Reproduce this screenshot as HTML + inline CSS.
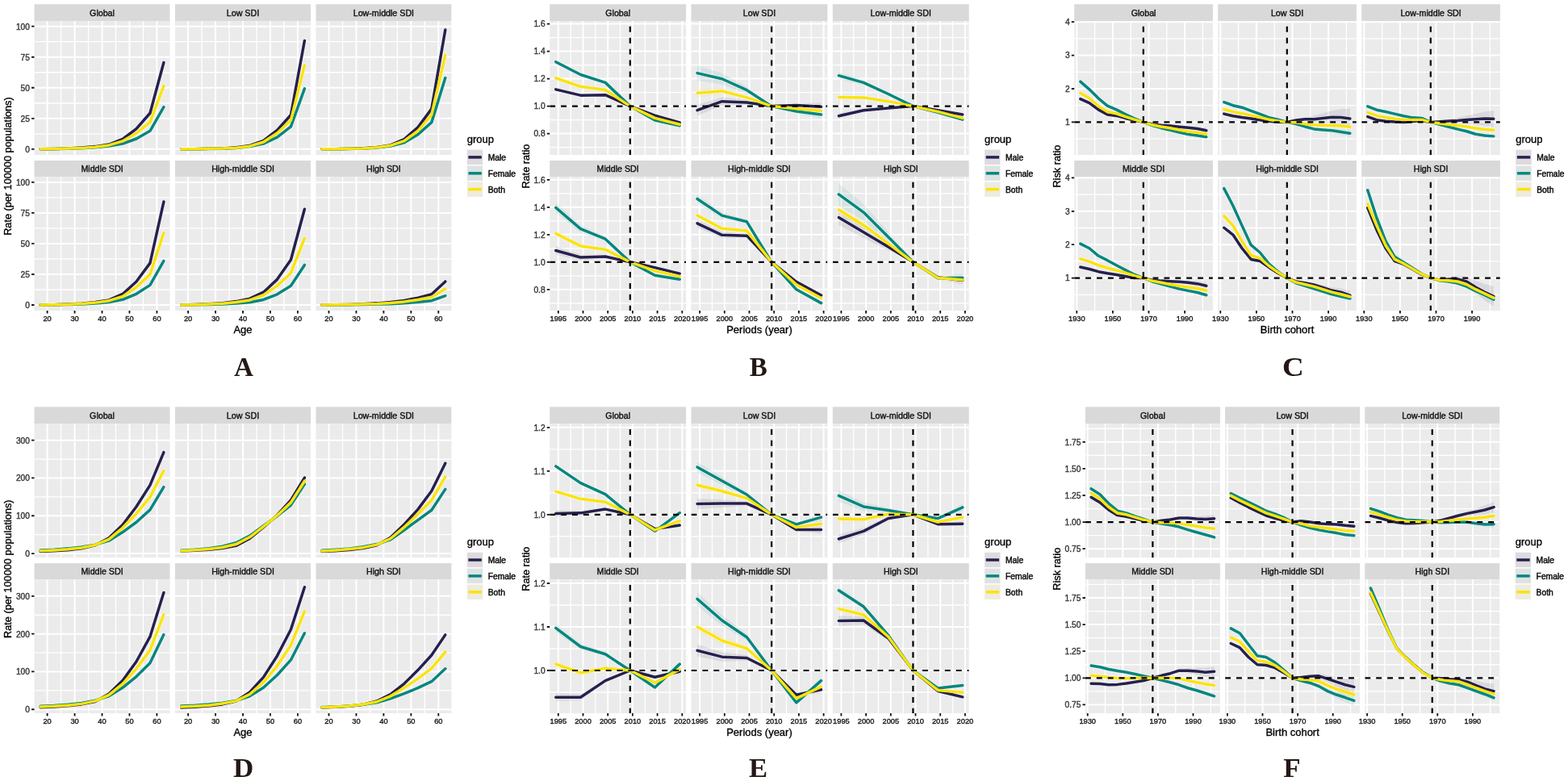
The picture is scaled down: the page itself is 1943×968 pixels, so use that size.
<!DOCTYPE html>
<html lang="en">
<head>
<meta charset="utf-8">
<title>Age-period-cohort effects by SDI region</title>
<style>
html,body{margin:0;padding:0;background:#fff}
body{width:1943px;height:968px;overflow:hidden}
svg{display:block;filter:blur(.4px)}
text{font-family:"Liberation Sans",Arial,Helvetica,sans-serif}
.st{fill:#d9d9d9}
.pn{fill:#ebebeb}
.gm{stroke:#fff;stroke-width:1.3;fill:none}
.gM{stroke:#fff;stroke-width:2.0;fill:none}
.sl{font-size:10.9px;fill:#111;stroke:#111;stroke-width:.4;text-anchor:middle}
.yl{font-size:10.6px;fill:#383838;stroke:#383838;stroke-width:.4;text-anchor:end}
.xl{font-size:9.7px;fill:#1c1c1c;stroke:#1c1c1c;stroke-width:.4;text-anchor:middle}
.at{font-size:13.4px;fill:#000;stroke:#000;stroke-width:.35;text-anchor:middle}
.lt{font-size:13.4px;fill:#000;stroke:#000;stroke-width:.35}
.ll{font-size:10.0px;fill:#0d0d0d;stroke:#0d0d0d;stroke-width:.45}
.tk{stroke:#111;stroke-width:1.8;fill:none}
.ln{fill:none;stroke-width:3.5;stroke-linejoin:round;stroke-linecap:round}
.hl{fill:none;stroke:#fff;stroke-opacity:.5;stroke-width:5.0;stroke-linejoin:round;stroke-linecap:round}
.rb{fill-opacity:.09;stroke:none}
.dh{fill:none;stroke:#000;stroke-width:2.2;stroke-dasharray:6.95 6.95}
.lk{fill:none;stroke-width:3.5}
.pl{font-family:"Liberation Serif","Times New Roman",Times,serif;font-weight:bold;font-size:34.3px;fill:#231815;text-anchor:middle}
</style>
</head>
<body>
<svg width="1943" height="968" viewBox="0 0 1943 968">
<rect width="1943" height="968" fill="#fff"/>
<defs><clipPath id="c1"><rect x="42.5" y="26" width="168" height="166"/></clipPath><clipPath id="c2"><rect x="217" y="26" width="168" height="166"/></clipPath><clipPath id="c3"><rect x="391.4" y="26" width="168" height="166"/></clipPath><clipPath id="c4"><rect x="42.5" y="219.1" width="168" height="165.9"/></clipPath><clipPath id="c5"><rect x="217" y="219.1" width="168" height="165.9"/></clipPath><clipPath id="c6"><rect x="391.4" y="219.1" width="168" height="165.9"/></clipPath><clipPath id="c7"><rect x="681.2" y="26" width="168.9" height="166"/></clipPath><clipPath id="c8"><rect x="856.5" y="26" width="168.9" height="166"/></clipPath><clipPath id="c9"><rect x="1031.8" y="26" width="168.9" height="166"/></clipPath><clipPath id="c10"><rect x="681.2" y="219.1" width="168.9" height="165.9"/></clipPath><clipPath id="c11"><rect x="856.5" y="219.1" width="168.9" height="165.9"/></clipPath><clipPath id="c12"><rect x="1031.8" y="219.1" width="168.9" height="165.9"/></clipPath><clipPath id="c13"><rect x="1331.2" y="26" width="171.7" height="166"/></clipPath><clipPath id="c14"><rect x="1509.2" y="26" width="171.7" height="166"/></clipPath><clipPath id="c15"><rect x="1687.2" y="26" width="171.7" height="166"/></clipPath><clipPath id="c16"><rect x="1331.2" y="219.1" width="171.7" height="165.9"/></clipPath><clipPath id="c17"><rect x="1509.2" y="219.1" width="171.7" height="165.9"/></clipPath><clipPath id="c18"><rect x="1687.2" y="219.1" width="171.7" height="165.9"/></clipPath><clipPath id="c19"><rect x="42.5" y="525.1" width="168" height="166"/></clipPath><clipPath id="c20"><rect x="217" y="525.1" width="168" height="166"/></clipPath><clipPath id="c21"><rect x="391.4" y="525.1" width="168" height="166"/></clipPath><clipPath id="c22"><rect x="42.5" y="718.2" width="168" height="165.9"/></clipPath><clipPath id="c23"><rect x="217" y="718.2" width="168" height="165.9"/></clipPath><clipPath id="c24"><rect x="391.4" y="718.2" width="168" height="165.9"/></clipPath><clipPath id="c25"><rect x="681.2" y="525.1" width="168.9" height="166"/></clipPath><clipPath id="c26"><rect x="856.5" y="525.1" width="168.9" height="166"/></clipPath><clipPath id="c27"><rect x="1031.8" y="525.1" width="168.9" height="166"/></clipPath><clipPath id="c28"><rect x="681.2" y="718.2" width="168.9" height="165.9"/></clipPath><clipPath id="c29"><rect x="856.5" y="718.2" width="168.9" height="165.9"/></clipPath><clipPath id="c30"><rect x="1031.8" y="718.2" width="168.9" height="165.9"/></clipPath><clipPath id="c31"><rect x="1344.9" y="525.1" width="167" height="166"/></clipPath><clipPath id="c32"><rect x="1518.1" y="525.1" width="167" height="166"/></clipPath><clipPath id="c33"><rect x="1691.3" y="525.1" width="167" height="166"/></clipPath><clipPath id="c34"><rect x="1344.9" y="718.2" width="167" height="165.9"/></clipPath><clipPath id="c35"><rect x="1518.1" y="718.2" width="167" height="165.9"/></clipPath><clipPath id="c36"><rect x="1691.3" y="718.2" width="167" height="165.9"/></clipPath></defs>
<g class="fig" id="figA">
<rect class="st" x="42.5" y="5.2" width="168" height="20.8"/>
<text class="sl" transform="translate(126.5 19.8) rotate(.02) scale(0.98 1)">Global</text>
<rect class="pn" x="42.5" y="26" width="168" height="166"/>
<path class="gm" d="M42.5 165.79h168M42.5 127.76h168M42.5 89.74h168M42.5 51.71h168M75.58 26v166M109.53 26v166M143.47 26v166M177.43 26v166"/>
<path class="gM" d="M42.5 184.8h168M42.5 146.78h168M42.5 108.75h168M42.5 70.73h168M42.5 32.7h168M58.6 26v166M92.55 26v166M126.5 26v166M160.45 26v166M194.4 26v166"/>
<g clip-path="url(#c1)">
<polyline class="hl" points="50.11,184.8 67.09,184.5 84.06,183.89 101.04,182.97 118.01,181.61 134.99,179.02 151.96,172.48 168.94,159.7 185.91,140.23 202.89,77.42"/>
<polyline class="hl" points="50.11,184.8 67.09,184.65 84.06,184.19 101.04,183.74 118.01,182.82 134.99,181 151.96,178.11 168.94,172.02 185.91,162.29 202.89,132.63"/>
<polyline class="hl" points="50.11,184.8 67.09,184.5 84.06,184.04 101.04,183.43 118.01,182.21 134.99,179.93 151.96,174.91 168.94,165.03 185.91,151.34 202.89,106.32"/>
<polyline class="ln" stroke="#26204d" points="50.11,184.8 67.09,184.5 84.06,183.89 101.04,182.97 118.01,181.61 134.99,179.02 151.96,172.48 168.94,159.7 185.91,140.23 202.89,77.42"/>
<polyline class="ln" stroke="#06867e" points="50.11,184.8 67.09,184.65 84.06,184.19 101.04,183.74 118.01,182.82 134.99,181 151.96,178.11 168.94,172.02 185.91,162.29 202.89,132.63"/>
<polyline class="ln" stroke="#fbe30d" points="50.11,184.8 67.09,184.5 84.06,184.04 101.04,183.43 118.01,182.21 134.99,179.93 151.96,174.91 168.94,165.03 185.91,151.34 202.89,106.32"/>
</g>
<text class="yl" transform="translate(36.9 188.7) rotate(.02) scale(0.96 1)">0</text>
<text class="yl" transform="translate(36.9 150.68) rotate(.02) scale(0.96 1)">25</text>
<text class="yl" transform="translate(36.9 112.65) rotate(.02) scale(0.96 1)">50</text>
<text class="yl" transform="translate(36.9 74.63) rotate(.02) scale(0.96 1)">75</text>
<text class="yl" transform="translate(36.9 36.6) rotate(.02) scale(0.96 1)">100</text>
<path class="tk" d="M39.1 184.8h3.4M39.1 146.78h3.4M39.1 108.75h3.4M39.1 70.73h3.4M39.1 32.7h3.4"/>
<rect class="st" x="217" y="5.2" width="168" height="20.8"/>
<text class="sl" transform="translate(301 19.8) rotate(.02) scale(0.98 1)">Low SDI</text>
<rect class="pn" x="217" y="26" width="168" height="166"/>
<path class="gm" d="M217 165.79h168M217 127.76h168M217 89.74h168M217 51.71h168M250.07 26v166M284.02 26v166M317.98 26v166M351.93 26v166"/>
<path class="gM" d="M217 184.8h168M217 146.78h168M217 108.75h168M217 70.73h168M217 32.7h168M233.1 26v166M267.05 26v166M301 26v166M334.95 26v166M368.9 26v166"/>
<g clip-path="url(#c2)">
<polyline class="hl" points="224.61,184.8 241.59,184.65 258.56,184.34 275.54,184.04 292.51,182.82 309.49,180.39 326.46,174.31 343.44,161.38 360.41,142.52 377.39,50.5"/>
<polyline class="hl" points="224.61,184.8 241.59,184.65 258.56,184.5 275.54,184.19 292.51,183.43 309.49,181.61 326.46,178.11 343.44,170.2 360.41,156.97 377.39,109.81"/>
<polyline class="hl" points="224.61,184.8 241.59,184.65 258.56,184.34 275.54,184.04 292.51,183.28 309.49,181.15 326.46,175.98 343.44,165.03 360.41,149.06 377.39,80.92"/>
<polyline class="ln" stroke="#26204d" points="224.61,184.8 241.59,184.65 258.56,184.34 275.54,184.04 292.51,182.82 309.49,180.39 326.46,174.31 343.44,161.38 360.41,142.52 377.39,50.5"/>
<polyline class="ln" stroke="#06867e" points="224.61,184.8 241.59,184.65 258.56,184.5 275.54,184.19 292.51,183.43 309.49,181.61 326.46,178.11 343.44,170.2 360.41,156.97 377.39,109.81"/>
<polyline class="ln" stroke="#fbe30d" points="224.61,184.8 241.59,184.65 258.56,184.34 275.54,184.04 292.51,183.28 309.49,181.15 326.46,175.98 343.44,165.03 360.41,149.06 377.39,80.92"/>
</g>
<rect class="st" x="391.4" y="5.2" width="168" height="20.8"/>
<text class="sl" transform="translate(475.4 19.8) rotate(.02) scale(0.98 1)">Low-middle SDI</text>
<rect class="pn" x="391.4" y="26" width="168" height="166"/>
<path class="gm" d="M391.4 165.79h168M391.4 127.76h168M391.4 89.74h168M391.4 51.71h168M424.48 26v166M458.43 26v166M492.38 26v166M526.33 26v166"/>
<path class="gM" d="M391.4 184.8h168M391.4 146.78h168M391.4 108.75h168M391.4 70.73h168M391.4 32.7h168M407.5 26v166M441.45 26v166M475.4 26v166M509.35 26v166M543.3 26v166"/>
<g clip-path="url(#c3)">
<polyline class="hl" points="399.01,184.8 415.99,184.65 432.96,184.34 449.94,183.74 466.91,182.52 483.89,179.93 500.86,172.48 517.84,157.88 534.81,134.91 551.79,36.96"/>
<polyline class="hl" points="399.01,184.8 415.99,184.65 432.96,184.5 449.94,184.04 466.91,183.13 483.89,181 500.86,176.74 517.84,166.7 534.81,151.64 551.79,96.58"/>
<polyline class="hl" points="399.01,184.8 415.99,184.65 432.96,184.34 449.94,183.89 466.91,182.82 483.89,180.39 500.86,174.61 517.84,162.29 534.81,142.06 551.79,68.14"/>
<polyline class="ln" stroke="#26204d" points="399.01,184.8 415.99,184.65 432.96,184.34 449.94,183.74 466.91,182.52 483.89,179.93 500.86,172.48 517.84,157.88 534.81,134.91 551.79,36.96"/>
<polyline class="ln" stroke="#06867e" points="399.01,184.8 415.99,184.65 432.96,184.5 449.94,184.04 466.91,183.13 483.89,181 500.86,176.74 517.84,166.7 534.81,151.64 551.79,96.58"/>
<polyline class="ln" stroke="#fbe30d" points="399.01,184.8 415.99,184.65 432.96,184.34 449.94,183.89 466.91,182.82 483.89,180.39 500.86,174.61 517.84,162.29 534.81,142.06 551.79,68.14"/>
</g>
<rect class="st" x="42.5" y="199" width="168" height="20.1"/>
<text class="sl" transform="translate(126.5 213.25) rotate(.02) scale(0.98 1)">Middle SDI</text>
<rect class="pn" x="42.5" y="219.1" width="168" height="165.9"/>
<path class="gm" d="M42.5 358.99h168M42.5 320.96h168M42.5 282.94h168M42.5 244.91h168M75.58 219.1v165.9M109.53 219.1v165.9M143.47 219.1v165.9M177.43 219.1v165.9"/>
<path class="gM" d="M42.5 378h168M42.5 339.98h168M42.5 301.95h168M42.5 263.93h168M42.5 225.9h168M58.6 219.1v165.9M92.55 219.1v165.9M126.5 219.1v165.9M160.45 219.1v165.9M194.4 219.1v165.9"/>
<g clip-path="url(#c4)">
<polyline class="hl" points="50.11,378 67.09,377.7 84.06,377.09 101.04,376.17 118.01,374.5 134.99,371.92 151.96,364.46 168.94,348.95 185.91,326.13 202.89,250.08"/>
<polyline class="hl" points="50.11,378 67.09,377.85 84.06,377.39 101.04,376.94 118.01,376.02 134.99,374.5 151.96,371.31 168.94,364.31 185.91,353.36 202.89,323.4"/>
<polyline class="hl" points="50.11,378 67.09,377.7 84.06,377.24 101.04,376.48 118.01,375.11 134.99,372.68 151.96,367.51 168.94,355.95 185.91,340.13 202.89,288.72"/>
<polyline class="ln" stroke="#26204d" points="50.11,378 67.09,377.7 84.06,377.09 101.04,376.17 118.01,374.5 134.99,371.92 151.96,364.46 168.94,348.95 185.91,326.13 202.89,250.08"/>
<polyline class="ln" stroke="#06867e" points="50.11,378 67.09,377.85 84.06,377.39 101.04,376.94 118.01,376.02 134.99,374.5 151.96,371.31 168.94,364.31 185.91,353.36 202.89,323.4"/>
<polyline class="ln" stroke="#fbe30d" points="50.11,378 67.09,377.7 84.06,377.24 101.04,376.48 118.01,375.11 134.99,372.68 151.96,367.51 168.94,355.95 185.91,340.13 202.89,288.72"/>
</g>
<text class="yl" transform="translate(36.9 381.9) rotate(.02) scale(0.96 1)">0</text>
<text class="yl" transform="translate(36.9 343.88) rotate(.02) scale(0.96 1)">25</text>
<text class="yl" transform="translate(36.9 305.85) rotate(.02) scale(0.96 1)">50</text>
<text class="yl" transform="translate(36.9 267.82) rotate(.02) scale(0.96 1)">75</text>
<text class="yl" transform="translate(36.9 229.8) rotate(.02) scale(0.96 1)">100</text>
<path class="tk" d="M39.1 378h3.4M39.1 339.98h3.4M39.1 301.95h3.4M39.1 263.93h3.4M39.1 225.9h3.4"/>
<text class="xl" transform="translate(58.6 398) rotate(.02) scale(0.955 1)">20</text>
<text class="xl" transform="translate(92.55 398) rotate(.02) scale(0.955 1)">30</text>
<text class="xl" transform="translate(126.5 398) rotate(.02) scale(0.955 1)">40</text>
<text class="xl" transform="translate(160.45 398) rotate(.02) scale(0.955 1)">50</text>
<text class="xl" transform="translate(194.4 398) rotate(.02) scale(0.955 1)">60</text>
<path class="tk" d="M58.6 385v3.4M92.55 385v3.4M126.5 385v3.4M160.45 385v3.4M194.4 385v3.4"/>
<rect class="st" x="217" y="199" width="168" height="20.1"/>
<text class="sl" transform="translate(301 213.25) rotate(.02) scale(0.98 1)">High-middle SDI</text>
<rect class="pn" x="217" y="219.1" width="168" height="165.9"/>
<path class="gm" d="M217 358.99h168M217 320.96h168M217 282.94h168M217 244.91h168M250.07 219.1v165.9M284.02 219.1v165.9M317.98 219.1v165.9M351.93 219.1v165.9"/>
<path class="gM" d="M217 378h168M217 339.98h168M217 301.95h168M217 263.93h168M217 225.9h168M233.1 219.1v165.9M267.05 219.1v165.9M301 219.1v165.9M334.95 219.1v165.9M368.9 219.1v165.9"/>
<g clip-path="url(#c5)">
<polyline class="hl" points="224.61,378 241.59,377.54 258.56,376.78 275.54,375.72 292.51,373.59 309.49,370.09 326.46,362.18 343.44,346.36 360.41,322.03 377.39,259.21"/>
<polyline class="hl" points="224.61,378 241.59,377.85 258.56,377.39 275.54,376.94 292.51,376.02 309.49,374.81 326.46,371.46 343.44,364.77 360.41,354.27 377.39,328.42"/>
<polyline class="hl" points="224.61,378 241.59,377.7 258.56,377.09 275.54,376.17 292.51,374.5 309.49,371.92 326.46,365.68 343.44,354.27 360.41,338.45 377.39,295.26"/>
<polyline class="ln" stroke="#26204d" points="224.61,378 241.59,377.54 258.56,376.78 275.54,375.72 292.51,373.59 309.49,370.09 326.46,362.18 343.44,346.36 360.41,322.03 377.39,259.21"/>
<polyline class="ln" stroke="#06867e" points="224.61,378 241.59,377.85 258.56,377.39 275.54,376.94 292.51,376.02 309.49,374.81 326.46,371.46 343.44,364.77 360.41,354.27 377.39,328.42"/>
<polyline class="ln" stroke="#fbe30d" points="224.61,378 241.59,377.7 258.56,377.09 275.54,376.17 292.51,374.5 309.49,371.92 326.46,365.68 343.44,354.27 360.41,338.45 377.39,295.26"/>
</g>
<text class="xl" transform="translate(233.1 398) rotate(.02) scale(0.955 1)">20</text>
<text class="xl" transform="translate(267.05 398) rotate(.02) scale(0.955 1)">30</text>
<text class="xl" transform="translate(301 398) rotate(.02) scale(0.955 1)">40</text>
<text class="xl" transform="translate(334.95 398) rotate(.02) scale(0.955 1)">50</text>
<text class="xl" transform="translate(368.9 398) rotate(.02) scale(0.955 1)">60</text>
<path class="tk" d="M233.1 385v3.4M267.05 385v3.4M301 385v3.4M334.95 385v3.4M368.9 385v3.4"/>
<rect class="st" x="391.4" y="199" width="168" height="20.1"/>
<text class="sl" transform="translate(475.4 213.25) rotate(.02) scale(0.98 1)">High SDI</text>
<rect class="pn" x="391.4" y="219.1" width="168" height="165.9"/>
<path class="gm" d="M391.4 358.99h168M391.4 320.96h168M391.4 282.94h168M391.4 244.91h168M424.48 219.1v165.9M458.43 219.1v165.9M492.38 219.1v165.9M526.33 219.1v165.9"/>
<path class="gM" d="M391.4 378h168M391.4 339.98h168M391.4 301.95h168M391.4 263.93h168M391.4 225.9h168M407.5 219.1v165.9M441.45 219.1v165.9M475.4 219.1v165.9M509.35 219.1v165.9M543.3 219.1v165.9"/>
<g clip-path="url(#c6)">
<polyline class="hl" points="399.01,378 415.99,377.85 432.96,377.39 449.94,376.78 466.91,375.87 483.89,374.5 500.86,372.37 517.84,369.18 534.81,364.77 551.79,348.95"/>
<polyline class="hl" points="399.01,378 415.99,377.85 432.96,377.7 449.94,377.39 466.91,377.09 483.89,376.63 500.86,375.72 517.84,374.5 534.81,372.68 551.79,366.59"/>
<polyline class="hl" points="399.01,378 415.99,377.85 432.96,377.54 449.94,377.09 466.91,376.48 483.89,375.41 500.86,373.89 517.84,371.46 534.81,368.27 551.79,358.07"/>
<polyline class="ln" stroke="#26204d" points="399.01,378 415.99,377.85 432.96,377.39 449.94,376.78 466.91,375.87 483.89,374.5 500.86,372.37 517.84,369.18 534.81,364.77 551.79,348.95"/>
<polyline class="ln" stroke="#06867e" points="399.01,378 415.99,377.85 432.96,377.7 449.94,377.39 466.91,377.09 483.89,376.63 500.86,375.72 517.84,374.5 534.81,372.68 551.79,366.59"/>
<polyline class="ln" stroke="#fbe30d" points="399.01,378 415.99,377.85 432.96,377.54 449.94,377.09 466.91,376.48 483.89,375.41 500.86,373.89 517.84,371.46 534.81,368.27 551.79,358.07"/>
</g>
<text class="xl" transform="translate(407.5 398) rotate(.02) scale(0.955 1)">20</text>
<text class="xl" transform="translate(441.45 398) rotate(.02) scale(0.955 1)">30</text>
<text class="xl" transform="translate(475.4 398) rotate(.02) scale(0.955 1)">40</text>
<text class="xl" transform="translate(509.35 398) rotate(.02) scale(0.955 1)">50</text>
<text class="xl" transform="translate(543.3 398) rotate(.02) scale(0.955 1)">60</text>
<path class="tk" d="M407.5 385v3.4M441.45 385v3.4M475.4 385v3.4M509.35 385v3.4M543.3 385v3.4"/>
<text class="at" transform="translate(300.95 413.2) rotate(.02) scale(0.97 1)">Age</text>
<text class="at" transform="translate(14.2 206.1) rotate(-90.02) scale(0.948 1)">Rate (per 100000 populations)</text>
<text class="lt" transform="translate(578.8 176.8) rotate(.02) scale(0.97 1)">group</text>
<rect x="578.8" y="185.6" width="19.4" height="18.5" fill="#dedade"/>
<path class="lk" stroke="#26204d" d="M580.4 194.9h16.4"/>
<text class="ll" transform="translate(604.7 199.1) rotate(.02) scale(1.03 1)">Male</text>
<rect x="578.8" y="205.5" width="19.4" height="18.5" fill="#dde3e2"/>
<path class="lk" stroke="#06867e" d="M580.4 214.8h16.4"/>
<text class="ll" transform="translate(604.7 219) rotate(.02) scale(1.03 1)">Female</text>
<rect x="578.8" y="225.4" width="19.4" height="18.5" fill="#eeebdf"/>
<path class="lk" stroke="#fbe30d" d="M580.4 234.7h16.4"/>
<text class="ll" transform="translate(604.7 238.9) rotate(.02) scale(1.03 1)">Both</text>
<text class="pl" transform="translate(301.9 465.9) rotate(.02) scale(0.97 1)">A</text>
</g>
<g class="fig" id="figB">
<rect class="st" x="681.2" y="5.2" width="168.9" height="20.8"/>
<text class="sl" transform="translate(765.65 19.8) rotate(.02) scale(0.98 1)">Global</text>
<rect class="pn" x="681.2" y="26" width="168.9" height="166"/>
<path class="gm" d="M681.2 182.6h168.9M681.2 148.6h168.9M681.2 114.6h168.9M681.2 80.6h168.9M681.2 46.6h168.9M707.15 26v166M737.85 26v166M768.55 26v166M799.25 26v166M829.95 26v166"/>
<path class="gM" d="M681.2 165.6h168.9M681.2 131.6h168.9M681.2 97.6h168.9M681.2 63.6h168.9M681.2 29.6h168.9M691.8 26v166M722.5 26v166M753.2 26v166M783.9 26v166M814.6 26v166M845.3 26v166"/>
<g clip-path="url(#c7)">
<polygon class="rb" fill="#26204d" points="688.73,109.16 719.43,116.89 750.13,116.87 780.83,131.6 811.53,142.61 842.23,150.64 842.23,153.36 811.53,143.71 780.83,131.6 750.13,118.45 719.43,119.45 688.73,112.56"/>
<polygon class="rb" fill="#06867e" points="688.73,74.65 719.43,90.96 750.13,101.41 780.83,131.6 811.53,148.39 842.23,154.38 842.23,157.1 811.53,149.49 780.83,131.6 750.13,103.31 719.43,94.04 688.73,78.73"/>
<polygon class="rb" fill="#fbe30d" points="688.73,95.39 719.43,106.27 750.13,110.91 780.83,131.6 811.53,145.98 842.23,153.19 842.23,155.23 811.53,146.8 780.83,131.6 750.13,112.17 719.43,108.31 688.73,98.11"/>
<polyline class="hl" points="688.73,110.86 719.43,118.17 750.13,117.66 780.83,131.6 811.53,143.16 842.23,152"/>
<polyline class="hl" points="688.73,76.69 719.43,92.5 750.13,102.36 780.83,131.6 811.53,148.94 842.23,155.74"/>
<polyline class="hl" points="688.73,96.75 719.43,107.29 750.13,111.54 780.83,131.6 811.53,146.39 842.23,154.21"/>
<polyline class="ln" stroke="#26204d" points="688.73,110.86 719.43,118.17 750.13,117.66 780.83,131.6 811.53,143.16 842.23,152"/>
<polyline class="ln" stroke="#06867e" points="688.73,76.69 719.43,92.5 750.13,102.36 780.83,131.6 811.53,148.94 842.23,155.74"/>
<polyline class="ln" stroke="#fbe30d" points="688.73,96.75 719.43,107.29 750.13,111.54 780.83,131.6 811.53,146.39 842.23,154.21"/>
<path class="dh" d="M681.2 131.6H850.1"/>
<path class="dh" d="M780.83 192.7V26"/>
</g>
<text class="yl" transform="translate(675.6 169.5) rotate(.02) scale(0.96 1)">0.8</text>
<text class="yl" transform="translate(675.6 135.5) rotate(.02) scale(0.96 1)">1.0</text>
<text class="yl" transform="translate(675.6 101.5) rotate(.02) scale(0.96 1)">1.2</text>
<text class="yl" transform="translate(675.6 67.5) rotate(.02) scale(0.96 1)">1.4</text>
<text class="yl" transform="translate(675.6 33.5) rotate(.02) scale(0.96 1)">1.6</text>
<path class="tk" d="M677.8 165.6h3.4M677.8 131.6h3.4M677.8 97.6h3.4M677.8 63.6h3.4M677.8 29.6h3.4"/>
<rect class="st" x="856.5" y="5.2" width="168.9" height="20.8"/>
<text class="sl" transform="translate(940.95 19.8) rotate(.02) scale(0.98 1)">Low SDI</text>
<rect class="pn" x="856.5" y="26" width="168.9" height="166"/>
<path class="gm" d="M856.5 182.6h168.9M856.5 148.6h168.9M856.5 114.6h168.9M856.5 80.6h168.9M856.5 46.6h168.9M882.45 26v166M913.15 26v166M943.85 26v166M974.55 26v166M1005.25 26v166"/>
<path class="gM" d="M856.5 165.6h168.9M856.5 131.6h168.9M856.5 97.6h168.9M856.5 63.6h168.9M856.5 29.6h168.9M867.1 26v166M897.8 26v166M928.5 26v166M959.2 26v166M989.9 26v166M1020.6 26v166"/>
<g clip-path="url(#c8)">
<polygon class="rb" fill="#26204d" points="864.03,129.9 894.73,120.53 925.43,123.86 956.13,131.6 986.83,128.51 1017.53,127.18 1017.53,137.38 986.83,132.65 956.13,131.6 925.43,130.16 894.73,130.77 864.03,143.5"/>
<polygon class="rb" fill="#06867e" points="864.03,81.28 894.73,90.73 925.43,107.38 956.13,131.6 986.83,135.99 1017.53,136.87 1017.53,147.07 986.83,140.13 956.13,131.6 925.43,116.04 894.73,104.81 864.03,99.98"/>
<polygon class="rb" fill="#fbe30d" points="864.03,110.18 894.73,109.06 925.43,118.53 956.13,131.6 986.83,133.11 1017.53,134.15 1017.53,140.95 986.83,135.87 956.13,131.6 925.43,123.25 894.73,116.74 864.03,120.38"/>
<polyline class="hl" points="864.03,136.7 894.73,125.65 925.43,127.01 956.13,131.6 986.83,130.58 1017.53,132.28"/>
<polyline class="hl" points="864.03,90.63 894.73,97.77 925.43,111.71 956.13,131.6 986.83,138.06 1017.53,141.97"/>
<polyline class="hl" points="864.03,115.28 894.73,112.9 925.43,120.89 956.13,131.6 986.83,134.49 1017.53,137.55"/>
<polyline class="ln" stroke="#26204d" points="864.03,136.7 894.73,125.65 925.43,127.01 956.13,131.6 986.83,130.58 1017.53,132.28"/>
<polyline class="ln" stroke="#06867e" points="864.03,90.63 894.73,97.77 925.43,111.71 956.13,131.6 986.83,138.06 1017.53,141.97"/>
<polyline class="ln" stroke="#fbe30d" points="864.03,115.28 894.73,112.9 925.43,120.89 956.13,131.6 986.83,134.49 1017.53,137.55"/>
<path class="dh" d="M856.5 131.6H1025.4"/>
<path class="dh" d="M956.13 192.7V26"/>
</g>
<rect class="st" x="1031.8" y="5.2" width="168.9" height="20.8"/>
<text class="sl" transform="translate(1116.25 19.8) rotate(.02) scale(0.98 1)">Low-middle SDI</text>
<rect class="pn" x="1031.8" y="26" width="168.9" height="166"/>
<path class="gm" d="M1031.8 182.6h168.9M1031.8 148.6h168.9M1031.8 114.6h168.9M1031.8 80.6h168.9M1031.8 46.6h168.9M1057.75 26v166M1088.45 26v166M1119.15 26v166M1149.85 26v166M1180.55 26v166"/>
<path class="gM" d="M1031.8 165.6h168.9M1031.8 131.6h168.9M1031.8 97.6h168.9M1031.8 63.6h168.9M1031.8 29.6h168.9M1042.4 26v166M1073.1 26v166M1103.8 26v166M1134.5 26v166M1165.2 26v166M1195.9 26v166"/>
<g clip-path="url(#c9)">
<polygon class="rb" fill="#26204d" points="1039.33,140.27 1070.03,134.14 1100.73,132.4 1131.43,131.6 1162.13,135.87 1192.83,139.93 1192.83,144.01 1162.13,137.53 1131.43,131.6 1100.73,135.56 1070.03,139.26 1039.33,147.07"/>
<polygon class="rb" fill="#06867e" points="1039.33,89.44 1070.03,99.16 1100.73,114.5 1131.43,131.6 1162.13,138.42 1192.83,146.05 1192.83,150.13 1162.13,140.08 1131.43,131.6 1100.73,118.44 1070.03,105.56 1039.33,97.94"/>
<polygon class="rb" fill="#fbe30d" points="1039.33,118.51 1070.03,119.35 1100.73,124.7 1131.43,131.6 1162.13,137.71 1192.83,144.69 1192.83,148.09 1162.13,139.09 1131.43,131.6 1100.73,126.6 1070.03,122.43 1039.33,122.59"/>
<polyline class="hl" points="1039.33,143.67 1070.03,136.7 1100.73,133.98 1131.43,131.6 1162.13,136.7 1192.83,141.97"/>
<polyline class="hl" points="1039.33,93.69 1070.03,102.36 1100.73,116.47 1131.43,131.6 1162.13,139.25 1192.83,148.09"/>
<polyline class="hl" points="1039.33,120.55 1070.03,120.89 1100.73,125.65 1131.43,131.6 1162.13,138.4 1192.83,146.39"/>
<polyline class="ln" stroke="#26204d" points="1039.33,143.67 1070.03,136.7 1100.73,133.98 1131.43,131.6 1162.13,136.7 1192.83,141.97"/>
<polyline class="ln" stroke="#06867e" points="1039.33,93.69 1070.03,102.36 1100.73,116.47 1131.43,131.6 1162.13,139.25 1192.83,148.09"/>
<polyline class="ln" stroke="#fbe30d" points="1039.33,120.55 1070.03,120.89 1100.73,125.65 1131.43,131.6 1162.13,138.4 1192.83,146.39"/>
<path class="dh" d="M1031.8 131.6H1200.7"/>
<path class="dh" d="M1131.43 192.7V26"/>
</g>
<rect class="st" x="681.2" y="199" width="168.9" height="20.1"/>
<text class="sl" transform="translate(765.65 213.25) rotate(.02) scale(0.98 1)">Middle SDI</text>
<rect class="pn" x="681.2" y="219.1" width="168.9" height="165.9"/>
<path class="gm" d="M681.2 375.8h168.9M681.2 341.8h168.9M681.2 307.8h168.9M681.2 273.8h168.9M681.2 239.8h168.9M707.15 219.1v165.9M737.85 219.1v165.9M768.55 219.1v165.9M799.25 219.1v165.9M829.95 219.1v165.9"/>
<path class="gM" d="M681.2 358.8h168.9M681.2 324.8h168.9M681.2 290.8h168.9M681.2 256.8h168.9M681.2 222.8h168.9M691.8 219.1v165.9M722.5 219.1v165.9M753.2 219.1v165.9M783.9 219.1v165.9M814.6 219.1v165.9M845.3 219.1v165.9"/>
<g clip-path="url(#c10)">
<polygon class="rb" fill="#26204d" points="688.73,305.42 719.43,315.18 750.13,315.64 780.83,324.8 811.53,330.77 842.23,337.04 842.23,341.12 811.53,332.43 780.83,324.8 750.13,320.36 719.43,322.86 688.73,315.62"/>
<polygon class="rb" fill="#06867e" points="688.73,251.36 719.43,279.18 750.13,293.48 780.83,324.8 811.53,340.46 842.23,344.18 842.23,348.26 811.53,342.12 780.83,324.8 750.13,299 719.43,288.14 688.73,263.26"/>
<polygon class="rb" fill="#fbe30d" points="688.73,286.04 719.43,302.35 750.13,307.75 780.83,324.8 811.53,334.99 842.23,340.95 842.23,344.35 811.53,336.37 780.83,324.8 750.13,310.91 719.43,307.47 688.73,292.84"/>
<polyline class="hl" points="688.73,310.52 719.43,319.02 750.13,318 780.83,324.8 811.53,331.6 842.23,339.08"/>
<polyline class="hl" points="688.73,257.31 719.43,283.66 750.13,296.24 780.83,324.8 811.53,341.29 842.23,346.22"/>
<polyline class="hl" points="688.73,289.44 719.43,304.91 750.13,309.33 780.83,324.8 811.53,335.68 842.23,342.65"/>
<polyline class="ln" stroke="#26204d" points="688.73,310.52 719.43,319.02 750.13,318 780.83,324.8 811.53,331.6 842.23,339.08"/>
<polyline class="ln" stroke="#06867e" points="688.73,257.31 719.43,283.66 750.13,296.24 780.83,324.8 811.53,341.29 842.23,346.22"/>
<polyline class="ln" stroke="#fbe30d" points="688.73,289.44 719.43,304.91 750.13,309.33 780.83,324.8 811.53,335.68 842.23,342.65"/>
<path class="dh" d="M681.2 324.8H850.1"/>
<path class="dh" d="M780.83 385.7V219.1"/>
</g>
<text class="yl" transform="translate(675.6 362.7) rotate(.02) scale(0.96 1)">0.8</text>
<text class="yl" transform="translate(675.6 328.7) rotate(.02) scale(0.96 1)">1.0</text>
<text class="yl" transform="translate(675.6 294.7) rotate(.02) scale(0.96 1)">1.2</text>
<text class="yl" transform="translate(675.6 260.7) rotate(.02) scale(0.96 1)">1.4</text>
<text class="yl" transform="translate(675.6 226.7) rotate(.02) scale(0.96 1)">1.6</text>
<path class="tk" d="M677.8 358.8h3.4M677.8 324.8h3.4M677.8 290.8h3.4M677.8 256.8h3.4M677.8 222.8h3.4"/>
<text class="xl" transform="translate(691.8 398) rotate(.02) scale(0.955 1)">1995</text>
<text class="xl" transform="translate(722.5 398) rotate(.02) scale(0.955 1)">2000</text>
<text class="xl" transform="translate(753.2 398) rotate(.02) scale(0.955 1)">2005</text>
<text class="xl" transform="translate(783.9 398) rotate(.02) scale(0.955 1)">2010</text>
<text class="xl" transform="translate(814.6 398) rotate(.02) scale(0.955 1)">2015</text>
<text class="xl" transform="translate(845.3 398) rotate(.02) scale(0.955 1)">2020</text>
<path class="tk" d="M691.8 385v3.4M722.5 385v3.4M753.2 385v3.4M783.9 385v3.4M814.6 385v3.4M845.3 385v3.4"/>
<rect class="st" x="856.5" y="199" width="168.9" height="20.1"/>
<text class="sl" transform="translate(940.95 213.25) rotate(.02) scale(0.98 1)">High-middle SDI</text>
<rect class="pn" x="856.5" y="219.1" width="168.9" height="165.9"/>
<path class="gm" d="M856.5 375.8h168.9M856.5 341.8h168.9M856.5 307.8h168.9M856.5 273.8h168.9M856.5 239.8h168.9M882.45 219.1v165.9M913.15 219.1v165.9M943.85 219.1v165.9M974.55 219.1v165.9M1005.25 219.1v165.9"/>
<path class="gM" d="M856.5 358.8h168.9M856.5 324.8h168.9M856.5 290.8h168.9M856.5 256.8h168.9M856.5 222.8h168.9M867.1 219.1v165.9M897.8 219.1v165.9M928.5 219.1v165.9M959.2 219.1v165.9M989.9 219.1v165.9M1020.6 219.1v165.9"/>
<g clip-path="url(#c11)">
<polygon class="rb" fill="#26204d" points="864.03,271.76 894.73,287.47 925.43,289.8 956.13,324.8 986.83,348.45 1017.53,363.9 1017.53,367.98 986.83,350.11 956.13,324.8 925.43,294.52 894.73,295.15 864.03,281.96"/>
<polygon class="rb" fill="#06867e" points="864.03,241.33 894.73,263.33 925.43,272.46 956.13,324.8 986.83,357.97 1017.53,373.59 1017.53,377.67 986.83,359.63 956.13,324.8 925.43,277.18 894.73,271.01 864.03,251.53"/>
<polygon class="rb" fill="#fbe30d" points="864.03,263.6 894.73,280.76 925.43,284.46 956.13,324.8 986.83,351.99 1017.53,367.81 1017.53,371.21 986.83,353.37 956.13,324.8 925.43,287.62 894.73,285.88 864.03,270.4"/>
<polyline class="hl" points="864.03,276.86 894.73,291.31 925.43,292.16 956.13,324.8 986.83,349.28 1017.53,365.94"/>
<polyline class="hl" points="864.03,246.43 894.73,267.17 925.43,274.82 956.13,324.8 986.83,358.8 1017.53,375.63"/>
<polyline class="hl" points="864.03,267 894.73,283.32 925.43,286.04 956.13,324.8 986.83,352.68 1017.53,369.51"/>
<polyline class="ln" stroke="#26204d" points="864.03,276.86 894.73,291.31 925.43,292.16 956.13,324.8 986.83,349.28 1017.53,365.94"/>
<polyline class="ln" stroke="#06867e" points="864.03,246.43 894.73,267.17 925.43,274.82 956.13,324.8 986.83,358.8 1017.53,375.63"/>
<polyline class="ln" stroke="#fbe30d" points="864.03,267 894.73,283.32 925.43,286.04 956.13,324.8 986.83,352.68 1017.53,369.51"/>
<path class="dh" d="M856.5 324.8H1025.4"/>
<path class="dh" d="M956.13 385.7V219.1"/>
</g>
<text class="xl" transform="translate(867.1 398) rotate(.02) scale(0.955 1)">1995</text>
<text class="xl" transform="translate(897.8 398) rotate(.02) scale(0.955 1)">2000</text>
<text class="xl" transform="translate(928.5 398) rotate(.02) scale(0.955 1)">2005</text>
<text class="xl" transform="translate(959.2 398) rotate(.02) scale(0.955 1)">2010</text>
<text class="xl" transform="translate(989.9 398) rotate(.02) scale(0.955 1)">2015</text>
<text class="xl" transform="translate(1020.6 398) rotate(.02) scale(0.955 1)">2020</text>
<path class="tk" d="M867.1 385v3.4M897.8 385v3.4M928.5 385v3.4M959.2 385v3.4M989.9 385v3.4M1020.6 385v3.4"/>
<rect class="st" x="1031.8" y="199" width="168.9" height="20.1"/>
<text class="sl" transform="translate(1116.25 213.25) rotate(.02) scale(0.98 1)">High SDI</text>
<rect class="pn" x="1031.8" y="219.1" width="168.9" height="165.9"/>
<path class="gm" d="M1031.8 375.8h168.9M1031.8 341.8h168.9M1031.8 307.8h168.9M1031.8 273.8h168.9M1031.8 239.8h168.9M1057.75 219.1v165.9M1088.45 219.1v165.9M1119.15 219.1v165.9M1149.85 219.1v165.9M1180.55 219.1v165.9"/>
<path class="gM" d="M1031.8 358.8h168.9M1031.8 324.8h168.9M1031.8 290.8h168.9M1031.8 256.8h168.9M1031.8 222.8h168.9M1042.4 219.1v165.9M1073.1 219.1v165.9M1103.8 219.1v165.9M1134.5 219.1v165.9M1165.2 219.1v165.9M1195.9 219.1v165.9"/>
<g clip-path="url(#c12)">
<polygon class="rb" fill="#26204d" points="1039.33,260.2 1070.03,280.7 1100.73,301.77 1131.43,324.8 1162.13,341.6 1192.83,342.31 1192.83,352.51 1162.13,345.74 1131.43,324.8 1100.73,310.43 1070.03,294.78 1039.33,278.9"/>
<polygon class="rb" fill="#06867e" points="1039.33,227.22 1070.03,252.85 1100.73,287.56 1131.43,324.8 1162.13,342.79 1192.83,339.25 1192.83,349.45 1162.13,346.93 1131.43,324.8 1100.73,300.16 1070.03,273.33 1039.33,254.42"/>
<polygon class="rb" fill="#fbe30d" points="1039.33,253.23 1070.03,273.78 1100.73,298.7 1131.43,324.8 1162.13,342.97 1192.83,343.67 1192.83,350.47 1162.13,345.73 1131.43,324.8 1100.73,305 1070.03,284.02 1039.33,266.83"/>
<polyline class="hl" points="1039.33,269.55 1070.03,287.74 1100.73,306.1 1131.43,324.8 1162.13,343.67 1192.83,347.41"/>
<polyline class="hl" points="1039.33,240.82 1070.03,263.09 1100.73,293.86 1131.43,324.8 1162.13,344.86 1192.83,344.35"/>
<polyline class="hl" points="1039.33,260.03 1070.03,278.9 1100.73,301.85 1131.43,324.8 1162.13,344.35 1192.83,347.07"/>
<polyline class="ln" stroke="#26204d" points="1039.33,269.55 1070.03,287.74 1100.73,306.1 1131.43,324.8 1162.13,343.67 1192.83,347.41"/>
<polyline class="ln" stroke="#06867e" points="1039.33,240.82 1070.03,263.09 1100.73,293.86 1131.43,324.8 1162.13,344.86 1192.83,344.35"/>
<polyline class="ln" stroke="#fbe30d" points="1039.33,260.03 1070.03,278.9 1100.73,301.85 1131.43,324.8 1162.13,344.35 1192.83,347.07"/>
<path class="dh" d="M1031.8 324.8H1200.7"/>
<path class="dh" d="M1131.43 385.7V219.1"/>
</g>
<text class="xl" transform="translate(1042.4 398) rotate(.02) scale(0.955 1)">1995</text>
<text class="xl" transform="translate(1073.1 398) rotate(.02) scale(0.955 1)">2000</text>
<text class="xl" transform="translate(1103.8 398) rotate(.02) scale(0.955 1)">2005</text>
<text class="xl" transform="translate(1134.5 398) rotate(.02) scale(0.955 1)">2010</text>
<text class="xl" transform="translate(1165.2 398) rotate(.02) scale(0.955 1)">2015</text>
<text class="xl" transform="translate(1195.9 398) rotate(.02) scale(0.955 1)">2020</text>
<path class="tk" d="M1042.4 385v3.4M1073.1 385v3.4M1103.8 385v3.4M1134.5 385v3.4M1165.2 385v3.4M1195.9 385v3.4"/>
<text class="at" transform="translate(940.95 413.2) rotate(.02) scale(0.97 1)">Periods (year)</text>
<text class="at" transform="translate(655.8 206.1) rotate(-90.02) scale(0.948 1)">Rate ratio</text>
<text class="lt" transform="translate(1220.1 176.8) rotate(.02) scale(0.97 1)">group</text>
<rect x="1220.1" y="185.6" width="19.4" height="18.5" fill="#dedade"/>
<path class="lk" stroke="#26204d" d="M1221.7 194.9h16.4"/>
<text class="ll" transform="translate(1246 199.1) rotate(.02) scale(1.03 1)">Male</text>
<rect x="1220.1" y="205.5" width="19.4" height="18.5" fill="#dde3e2"/>
<path class="lk" stroke="#06867e" d="M1221.7 214.8h16.4"/>
<text class="ll" transform="translate(1246 219) rotate(.02) scale(1.03 1)">Female</text>
<rect x="1220.1" y="225.4" width="19.4" height="18.5" fill="#eeebdf"/>
<path class="lk" stroke="#fbe30d" d="M1221.7 234.7h16.4"/>
<text class="ll" transform="translate(1246 238.9) rotate(.02) scale(1.03 1)">Both</text>
<text class="pl" transform="translate(939.7 465.9) rotate(.02) scale(0.965 1)">B</text>
</g>
<g class="fig" id="figC">
<rect class="st" x="1331.2" y="5.2" width="171.7" height="20.8"/>
<text class="sl" transform="translate(1417.05 19.8) rotate(.02) scale(0.98 1)">Global</text>
<rect class="pn" x="1331.2" y="26" width="171.7" height="166"/>
<path class="gm" d="M1331.2 172.1h171.7M1331.2 130.7h171.7M1331.2 89.3h171.7M1331.2 47.9h171.7M1356.6 26v166M1401.2 26v166M1445.8 26v166M1490.4 26v166"/>
<path class="gM" d="M1331.2 151.4h171.7M1331.2 110h171.7M1331.2 68.6h171.7M1331.2 27.2h171.7M1334.3 26v166M1378.9 26v166M1423.5 26v166M1468.1 26v166"/>
<g clip-path="url(#c13)">
<polygon class="rb" fill="#26204d" points="1338.76,120.6 1349.91,125.74 1361.06,134.24 1372.21,140.6 1383.36,142.27 1394.51,145.57 1405.66,148.51 1416.81,151.4 1427.96,153.7 1439.11,154.52 1450.26,154.94 1461.41,155.68 1472.56,156.22 1483.71,156.85 1494.86,158.52 1494.86,165.14 1483.71,162.27 1472.56,160.49 1461.41,158.88 1450.26,157.14 1439.11,155.82 1427.96,154.23 1416.81,151.4 1405.66,149.57 1394.51,147.29 1383.36,144.55 1372.21,143.4 1361.06,137.51 1349.91,129.45 1338.76,124.74"/>
<polygon class="rb" fill="#06867e" points="1338.76,99.03 1349.91,108.97 1361.06,120.16 1372.21,129.71 1383.36,134.73 1394.51,140.81 1405.66,146.32 1416.81,151.4 1427.96,155.44 1439.11,158.44 1450.26,160.92 1461.41,163.34 1472.56,165.79 1483.71,166.94 1494.86,168.5 1494.86,170.98 1483.71,168.98 1472.56,167.4 1461.41,164.54 1450.26,161.75 1439.11,158.93 1427.96,155.64 1416.81,151.4 1405.66,147.38 1394.51,142.53 1383.36,137.02 1372.21,132.51 1361.06,123.43 1349.91,112.69 1338.76,103.17"/>
<polygon class="rb" fill="#fbe30d" points="1338.76,114.06 1349.91,120.68 1361.06,130.55 1372.21,137.73 1383.36,140.07 1394.51,144.14 1405.66,147.85 1416.81,151.4 1427.96,154.74 1439.11,156.7 1450.26,158.27 1461.41,160.36 1472.56,162.27 1483.71,163.3 1494.86,165.02 1494.86,167.5 1483.71,165.33 1472.56,163.88 1461.41,161.56 1450.26,159.1 1439.11,157.19 1427.96,154.94 1416.81,151.4 1405.66,148.49 1394.51,145.17 1383.36,141.45 1372.21,139.41 1361.06,132.51 1349.91,122.91 1338.76,116.54"/>
<polyline class="hl" points="1338.76,122.67 1349.91,127.6 1361.06,135.88 1372.21,142 1383.36,143.41 1394.51,146.43 1405.66,149.04 1416.81,151.4 1427.96,153.97 1439.11,155.17 1450.26,156.04 1461.41,157.28 1472.56,158.36 1483.71,159.56 1494.86,161.83"/>
<polyline class="hl" points="1338.76,101.1 1349.91,110.83 1361.06,121.8 1372.21,131.11 1383.36,135.88 1394.51,141.67 1405.66,146.85 1416.81,151.4 1427.96,155.54 1439.11,158.69 1450.26,161.34 1461.41,163.94 1472.56,166.59 1483.71,167.96 1494.86,169.74"/>
<polyline class="hl" points="1338.76,115.3 1349.91,121.8 1361.06,131.53 1372.21,138.57 1383.36,140.76 1394.51,144.65 1405.66,148.17 1416.81,151.4 1427.96,154.84 1439.11,156.95 1450.26,158.69 1461.41,160.96 1472.56,163.07 1483.71,164.32 1494.86,166.26"/>
<polyline class="ln" stroke="#26204d" points="1338.76,122.67 1349.91,127.6 1361.06,135.88 1372.21,142 1383.36,143.41 1394.51,146.43 1405.66,149.04 1416.81,151.4 1427.96,153.97 1439.11,155.17 1450.26,156.04 1461.41,157.28 1472.56,158.36 1483.71,159.56 1494.86,161.83"/>
<polyline class="ln" stroke="#06867e" points="1338.76,101.1 1349.91,110.83 1361.06,121.8 1372.21,131.11 1383.36,135.88 1394.51,141.67 1405.66,146.85 1416.81,151.4 1427.96,155.54 1439.11,158.69 1450.26,161.34 1461.41,163.94 1472.56,166.59 1483.71,167.96 1494.86,169.74"/>
<polyline class="ln" stroke="#fbe30d" points="1338.76,115.3 1349.91,121.8 1361.06,131.53 1372.21,138.57 1383.36,140.76 1394.51,144.65 1405.66,148.17 1416.81,151.4 1427.96,154.84 1439.11,156.95 1450.26,158.69 1461.41,160.96 1472.56,163.07 1483.71,164.32 1494.86,166.26"/>
<path class="dh" d="M1331.2 151.4H1502.9"/>
<path class="dh" d="M1416.81 192.7V26"/>
</g>
<text class="yl" transform="translate(1325.6 155.3) rotate(.02) scale(0.96 1)">1</text>
<text class="yl" transform="translate(1325.6 113.9) rotate(.02) scale(0.96 1)">2</text>
<text class="yl" transform="translate(1325.6 72.5) rotate(.02) scale(0.96 1)">3</text>
<text class="yl" transform="translate(1325.6 31.1) rotate(.02) scale(0.96 1)">4</text>
<path class="tk" d="M1327.8 151.4h3.4M1327.8 110h3.4M1327.8 68.6h3.4M1327.8 27.2h3.4"/>
<rect class="st" x="1509.2" y="5.2" width="171.7" height="20.8"/>
<text class="sl" transform="translate(1595.05 19.8) rotate(.02) scale(0.98 1)">Low SDI</text>
<rect class="pn" x="1509.2" y="26" width="171.7" height="166"/>
<path class="gm" d="M1509.2 172.1h171.7M1509.2 130.7h171.7M1509.2 89.3h171.7M1509.2 47.9h171.7M1534.6 26v166M1579.2 26v166M1623.8 26v166M1668.4 26v166"/>
<path class="gM" d="M1509.2 151.4h171.7M1509.2 110h171.7M1509.2 68.6h171.7M1509.2 27.2h171.7M1512.3 26v166M1556.9 26v166M1601.5 26v166M1646.1 26v166"/>
<g clip-path="url(#c14)">
<polygon class="rb" fill="#26204d" points="1516.76,138.65 1527.91,141.51 1539.06,143.56 1550.21,145.25 1561.36,147.29 1572.51,149.21 1583.66,150.52 1594.81,151.4 1605.96,148.05 1617.11,145.36 1628.26,143.55 1639.41,140.43 1650.56,137.17 1661.71,135.36 1672.86,134.51 1672.86,159.35 1661.71,155.69 1650.56,153.21 1639.41,152.43 1628.26,151.8 1617.11,150.24 1605.96,150.03 1594.81,151.4 1583.66,151.79 1572.51,151.27 1561.36,150.04 1550.21,148.61 1539.06,147.48 1527.91,145.97 1516.76,143.62"/>
<polygon class="rb" fill="#06867e" points="1516.76,124.08 1527.91,128.47 1539.06,131.22 1550.21,135.65 1561.36,140.09 1572.51,144.57 1583.66,147.45 1594.81,151.4 1605.96,153.14 1617.11,156.14 1628.26,158.55 1639.41,158.96 1650.56,159.16 1661.71,160.02 1672.86,161.05 1672.86,169.33 1661.71,166.79 1650.56,164.51 1639.41,162.96 1628.26,161.3 1617.11,157.76 1605.96,153.8 1594.81,151.4 1583.66,148.72 1572.51,146.64 1561.36,142.84 1550.21,139 1539.06,135.15 1527.91,132.93 1516.76,129.04"/>
<polygon class="rb" fill="#fbe30d" points="1516.76,133.85 1527.91,137 1539.06,139.45 1550.21,141.75 1561.36,144.61 1572.51,147.48 1583.66,149.49 1594.81,151.4 1605.96,151.38 1617.11,152.82 1628.26,153.74 1639.41,153.57 1650.56,153.4 1661.71,153.33 1672.86,153.97 1672.86,160.59 1661.71,158.75 1650.56,157.68 1639.41,156.77 1628.26,155.94 1617.11,154.12 1605.96,151.91 1594.81,151.4 1583.66,150.33 1572.51,148.86 1561.36,146.44 1550.21,143.99 1539.06,142.07 1527.91,139.97 1516.76,137.16"/>
<polyline class="hl" points="1516.76,141.13 1527.91,143.74 1539.06,145.52 1550.21,146.93 1561.36,148.67 1572.51,150.24 1583.66,151.15 1594.81,151.4 1605.96,149.04 1617.11,147.8 1628.26,147.67 1639.41,146.43 1650.56,145.19 1661.71,145.52 1672.86,146.93"/>
<polyline class="hl" points="1516.76,126.56 1527.91,130.7 1539.06,133.18 1550.21,137.32 1561.36,141.46 1572.51,145.6 1583.66,148.09 1594.81,151.4 1605.96,153.47 1617.11,156.95 1628.26,159.93 1639.41,160.96 1650.56,161.83 1661.71,163.41 1672.86,165.19"/>
<polyline class="hl" points="1516.76,135.5 1527.91,138.48 1539.06,140.76 1550.21,142.87 1561.36,145.52 1572.51,148.17 1583.66,149.91 1594.81,151.4 1605.96,151.65 1617.11,153.47 1628.26,154.84 1639.41,155.17 1650.56,155.54 1661.71,156.04 1672.86,157.28"/>
<polyline class="ln" stroke="#26204d" points="1516.76,141.13 1527.91,143.74 1539.06,145.52 1550.21,146.93 1561.36,148.67 1572.51,150.24 1583.66,151.15 1594.81,151.4 1605.96,149.04 1617.11,147.8 1628.26,147.67 1639.41,146.43 1650.56,145.19 1661.71,145.52 1672.86,146.93"/>
<polyline class="ln" stroke="#06867e" points="1516.76,126.56 1527.91,130.7 1539.06,133.18 1550.21,137.32 1561.36,141.46 1572.51,145.6 1583.66,148.09 1594.81,151.4 1605.96,153.47 1617.11,156.95 1628.26,159.93 1639.41,160.96 1650.56,161.83 1661.71,163.41 1672.86,165.19"/>
<polyline class="ln" stroke="#fbe30d" points="1516.76,135.5 1527.91,138.48 1539.06,140.76 1550.21,142.87 1561.36,145.52 1572.51,148.17 1583.66,149.91 1594.81,151.4 1605.96,151.65 1617.11,153.47 1628.26,154.84 1639.41,155.17 1650.56,155.54 1661.71,156.04 1672.86,157.28"/>
<path class="dh" d="M1509.2 151.4H1680.9"/>
<path class="dh" d="M1594.81 192.7V26"/>
</g>
<rect class="st" x="1687.2" y="5.2" width="171.7" height="20.8"/>
<text class="sl" transform="translate(1773.05 19.8) rotate(.02) scale(0.98 1)">Low-middle SDI</text>
<rect class="pn" x="1687.2" y="26" width="171.7" height="166"/>
<path class="gm" d="M1687.2 172.1h171.7M1687.2 130.7h171.7M1687.2 89.3h171.7M1687.2 47.9h171.7M1712.6 26v166M1757.2 26v166M1801.8 26v166M1846.4 26v166"/>
<path class="gM" d="M1687.2 151.4h171.7M1687.2 110h171.7M1687.2 68.6h171.7M1687.2 27.2h171.7M1690.3 26v166M1734.9 26v166M1779.5 26v166M1824.1 26v166"/>
<g clip-path="url(#c15)">
<polygon class="rb" fill="#26204d" points="1694.76,143 1705.91,147.18 1717.06,148.93 1728.21,149.87 1739.36,150.48 1750.51,149.76 1761.66,149.11 1772.81,151.4 1783.96,149.95 1795.11,147.88 1806.26,146.1 1817.41,143.5 1828.56,140.99 1839.71,138.46 1850.86,136.91 1850.86,157.61 1839.71,155.4 1828.56,154.36 1817.41,153.5 1806.26,152.98 1795.11,151.94 1783.96,151.6 1772.81,151.4 1761.66,149.96 1750.51,151.14 1739.36,152.32 1728.21,152.11 1717.06,151.55 1705.91,150.15 1694.76,146.31"/>
<polygon class="rb" fill="#06867e" points="1694.76,130.16 1705.91,134.72 1717.06,137.17 1728.21,140.01 1739.36,142.83 1750.51,145.16 1761.66,146.01 1772.81,151.4 1783.96,154.13 1795.11,156.87 1806.26,159.41 1817.41,161.74 1828.56,164.93 1839.71,166.27 1850.86,166.8 1850.86,170.94 1839.71,169.65 1828.56,167.6 1817.41,163.74 1806.26,160.78 1795.11,157.68 1783.96,154.46 1772.81,151.4 1761.66,146.86 1750.51,146.54 1739.36,144.66 1728.21,142.25 1717.06,139.79 1705.91,137.69 1694.76,133.47"/>
<polygon class="rb" fill="#fbe30d" points="1694.76,138.15 1705.91,142.29 1717.06,144.54 1728.21,146.42 1739.36,147.48 1750.51,147.99 1761.66,148.18 1772.81,151.4 1783.96,152.89 1795.11,153.89 1806.26,154.85 1817.41,155.95 1828.56,157.72 1839.71,158.77 1850.86,159.27 1850.86,163.41 1839.71,162.16 1828.56,160.4 1817.41,157.95 1806.26,156.23 1795.11,154.7 1783.96,153.22 1772.81,151.4 1761.66,148.82 1750.51,149.02 1739.36,148.86 1728.21,148.1 1717.06,146.5 1705.91,144.52 1694.76,140.64"/>
<polyline class="hl" points="1694.76,144.65 1705.91,148.67 1717.06,150.24 1728.21,150.99 1739.36,151.4 1750.51,150.45 1761.66,149.54 1772.81,151.4 1783.96,150.78 1795.11,149.91 1806.26,149.54 1817.41,148.5 1828.56,147.67 1839.71,146.93 1850.86,147.26"/>
<polyline class="hl" points="1694.76,131.82 1705.91,136.21 1717.06,138.48 1728.21,141.13 1739.36,143.74 1750.51,145.85 1761.66,146.43 1772.81,151.4 1783.96,154.3 1795.11,157.28 1806.26,160.09 1817.41,162.74 1828.56,166.26 1839.71,167.96 1850.86,168.87"/>
<polyline class="hl" points="1694.76,139.39 1705.91,143.41 1717.06,145.52 1728.21,147.26 1739.36,148.17 1750.51,148.5 1761.66,148.5 1772.81,151.4 1783.96,153.06 1795.11,154.3 1806.26,155.54 1817.41,156.95 1828.56,159.06 1839.71,160.47 1850.86,161.34"/>
<polyline class="ln" stroke="#26204d" points="1694.76,144.65 1705.91,148.67 1717.06,150.24 1728.21,150.99 1739.36,151.4 1750.51,150.45 1761.66,149.54 1772.81,151.4 1783.96,150.78 1795.11,149.91 1806.26,149.54 1817.41,148.5 1828.56,147.67 1839.71,146.93 1850.86,147.26"/>
<polyline class="ln" stroke="#06867e" points="1694.76,131.82 1705.91,136.21 1717.06,138.48 1728.21,141.13 1739.36,143.74 1750.51,145.85 1761.66,146.43 1772.81,151.4 1783.96,154.3 1795.11,157.28 1806.26,160.09 1817.41,162.74 1828.56,166.26 1839.71,167.96 1850.86,168.87"/>
<polyline class="ln" stroke="#fbe30d" points="1694.76,139.39 1705.91,143.41 1717.06,145.52 1728.21,147.26 1739.36,148.17 1750.51,148.5 1761.66,148.5 1772.81,151.4 1783.96,153.06 1795.11,154.3 1806.26,155.54 1817.41,156.95 1828.56,159.06 1839.71,160.47 1850.86,161.34"/>
<path class="dh" d="M1687.2 151.4H1858.9"/>
<path class="dh" d="M1772.81 192.7V26"/>
</g>
<rect class="st" x="1331.2" y="199" width="171.7" height="20.1"/>
<text class="sl" transform="translate(1417.05 213.25) rotate(.02) scale(0.98 1)">Middle SDI</text>
<rect class="pn" x="1331.2" y="219.1" width="171.7" height="165.9"/>
<path class="gm" d="M1331.2 365.3h171.7M1331.2 323.9h171.7M1331.2 282.5h171.7M1331.2 241.1h171.7M1356.6 219.1v165.9M1401.2 219.1v165.9M1445.8 219.1v165.9M1490.4 219.1v165.9"/>
<path class="gM" d="M1331.2 344.6h171.7M1331.2 303.2h171.7M1331.2 261.8h171.7M1331.2 220.4h171.7M1334.3 219.1v165.9M1378.9 219.1v165.9M1423.5 219.1v165.9M1468.1 219.1v165.9"/>
<g clip-path="url(#c16)">
<polygon class="rb" fill="#26204d" points="1338.76,329.41 1349.91,332.06 1361.06,335.38 1372.21,337.68 1383.36,339.63 1394.51,341.8 1405.66,344.18 1416.81,344.6 1427.96,346.92 1439.11,347.31 1450.26,347.28 1461.41,347.36 1472.56,347.56 1483.71,348.25 1494.86,350.11 1494.86,358.39 1483.71,355.03 1472.56,352.9 1461.41,351.36 1450.26,350.03 1439.11,348.93 1427.96,347.58 1416.81,344.6 1405.66,345.02 1394.51,343.18 1383.36,341.46 1372.21,339.92 1361.06,338 1349.91,335.03 1338.76,332.72"/>
<polygon class="rb" fill="#06867e" points="1338.76,300.43 1349.91,306.27 1361.06,315.72 1372.21,321.54 1383.36,327.87 1394.51,333.89 1405.66,339.79 1416.81,344.6 1427.96,348.86 1439.11,351.81 1450.26,354.61 1461.41,357.34 1472.56,359.35 1483.71,361.17 1494.86,364.06 1494.86,367.37 1483.71,363.88 1472.56,361.48 1461.41,358.94 1450.26,355.71 1439.11,352.46 1427.96,349.12 1416.81,344.6 1405.66,340.64 1394.51,335.27 1383.36,329.7 1372.21,323.78 1361.06,318.34 1349.91,309.24 1338.76,303.74"/>
<polygon class="rb" fill="#fbe30d" points="1338.76,319.64 1349.91,322.95 1361.06,327.8 1372.21,331.13 1383.36,334.27 1394.51,337.58 1405.66,341.3 1416.81,344.6 1427.96,348.02 1439.11,349.99 1450.26,352.09 1461.41,353.65 1472.56,355.22 1483.71,356.42 1494.86,358.8 1494.86,361.28 1483.71,358.45 1472.56,356.83 1461.41,354.85 1450.26,352.92 1439.11,350.47 1427.96,348.22 1416.81,344.6 1405.66,341.94 1394.51,338.62 1383.36,335.64 1372.21,332.81 1361.06,329.77 1349.91,325.18 1338.76,322.12"/>
<polyline class="hl" points="1338.76,331.06 1349.91,333.55 1361.06,336.69 1372.21,338.8 1383.36,340.54 1394.51,342.49 1405.66,344.6 1416.81,344.6 1427.96,347.25 1439.11,348.12 1450.26,348.66 1461.41,349.36 1472.56,350.23 1483.71,351.64 1494.86,354.25"/>
<polyline class="hl" points="1338.76,302.08 1349.91,307.75 1361.06,317.03 1372.21,322.66 1383.36,328.79 1394.51,334.58 1405.66,340.21 1416.81,344.6 1427.96,348.99 1439.11,352.13 1450.26,355.16 1461.41,358.14 1472.56,360.41 1483.71,362.53 1494.86,365.71"/>
<polyline class="hl" points="1338.76,320.88 1349.91,324.07 1361.06,328.79 1372.21,331.97 1383.36,334.95 1394.51,338.1 1405.66,341.62 1416.81,344.6 1427.96,348.12 1439.11,350.23 1450.26,352.51 1461.41,354.25 1472.56,356.03 1483.71,357.43 1494.86,360.04"/>
<polyline class="ln" stroke="#26204d" points="1338.76,331.06 1349.91,333.55 1361.06,336.69 1372.21,338.8 1383.36,340.54 1394.51,342.49 1405.66,344.6 1416.81,344.6 1427.96,347.25 1439.11,348.12 1450.26,348.66 1461.41,349.36 1472.56,350.23 1483.71,351.64 1494.86,354.25"/>
<polyline class="ln" stroke="#06867e" points="1338.76,302.08 1349.91,307.75 1361.06,317.03 1372.21,322.66 1383.36,328.79 1394.51,334.58 1405.66,340.21 1416.81,344.6 1427.96,348.99 1439.11,352.13 1450.26,355.16 1461.41,358.14 1472.56,360.41 1483.71,362.53 1494.86,365.71"/>
<polyline class="ln" stroke="#fbe30d" points="1338.76,320.88 1349.91,324.07 1361.06,328.79 1372.21,331.97 1383.36,334.95 1394.51,338.1 1405.66,341.62 1416.81,344.6 1427.96,348.12 1439.11,350.23 1450.26,352.51 1461.41,354.25 1472.56,356.03 1483.71,357.43 1494.86,360.04"/>
<path class="dh" d="M1331.2 344.6H1502.9"/>
<path class="dh" d="M1416.81 385.7V219.1"/>
</g>
<text class="yl" transform="translate(1325.6 348.5) rotate(.02) scale(0.96 1)">1</text>
<text class="yl" transform="translate(1325.6 307.1) rotate(.02) scale(0.96 1)">2</text>
<text class="yl" transform="translate(1325.6 265.7) rotate(.02) scale(0.96 1)">3</text>
<text class="yl" transform="translate(1325.6 224.3) rotate(.02) scale(0.96 1)">4</text>
<path class="tk" d="M1327.8 344.6h3.4M1327.8 303.2h3.4M1327.8 261.8h3.4M1327.8 220.4h3.4"/>
<text class="xl" transform="translate(1334.3 398) rotate(.02) scale(0.955 1)">1930</text>
<text class="xl" transform="translate(1378.9 398) rotate(.02) scale(0.955 1)">1950</text>
<text class="xl" transform="translate(1423.5 398) rotate(.02) scale(0.955 1)">1970</text>
<text class="xl" transform="translate(1468.1 398) rotate(.02) scale(0.955 1)">1990</text>
<path class="tk" d="M1334.3 385v3.4M1378.9 385v3.4M1423.5 385v3.4M1468.1 385v3.4"/>
<rect class="st" x="1509.2" y="199" width="171.7" height="20.1"/>
<text class="sl" transform="translate(1595.05 213.25) rotate(.02) scale(0.98 1)">High-middle SDI</text>
<rect class="pn" x="1509.2" y="219.1" width="171.7" height="165.9"/>
<path class="gm" d="M1509.2 365.3h171.7M1509.2 323.9h171.7M1509.2 282.5h171.7M1509.2 241.1h171.7M1534.6 219.1v165.9M1579.2 219.1v165.9M1623.8 219.1v165.9M1668.4 219.1v165.9"/>
<path class="gM" d="M1509.2 344.6h171.7M1509.2 303.2h171.7M1509.2 261.8h171.7M1509.2 220.4h171.7M1512.3 219.1v165.9M1556.9 219.1v165.9M1601.5 219.1v165.9M1646.1 219.1v165.9"/>
<g clip-path="url(#c17)">
<polygon class="rb" fill="#26204d" points="1516.76,280.18 1527.91,289.17 1539.06,306.12 1550.21,320.02 1561.36,322.38 1572.51,330.57 1583.66,337.94 1594.81,344.6 1605.96,348.53 1617.11,349.59 1628.26,351.12 1639.41,353.56 1650.56,356.3 1661.71,357.41 1672.86,360.41 1672.86,372.01 1661.71,366.9 1650.56,363.78 1639.41,359.16 1628.26,354.97 1617.11,351.86 1605.96,349.45 1594.81,344.6 1583.66,339 1572.51,332.3 1561.36,324.67 1550.21,322.82 1539.06,309.39 1527.91,292.89 1516.76,284.32"/>
<polygon class="rb" fill="#06867e" points="1516.76,231.58 1527.91,253.15 1539.06,277.97 1550.21,302.26 1561.36,311.83 1572.51,326.19 1583.66,336.2 1594.81,344.6 1605.96,350.6 1617.11,353.92 1628.26,357.21 1639.41,360.48 1650.56,363.73 1661.71,366.1 1672.86,368.41 1672.86,371.72 1661.71,368.81 1650.56,365.87 1639.41,362.08 1628.26,358.32 1617.11,354.57 1605.96,350.86 1594.81,344.6 1583.66,337.26 1572.51,327.91 1561.36,314.11 1550.21,305.05 1539.06,281.24 1527.91,256.87 1516.76,235.72"/>
<polygon class="rb" fill="#fbe30d" points="1516.76,266.02 1527.91,278.12 1539.06,297.63 1550.21,315.37 1561.36,319.09 1572.51,329.01 1583.66,337.14 1594.81,344.6 1605.96,349.73 1617.11,352.18 1628.26,354.61 1639.41,357.88 1650.56,361.08 1661.71,363.45 1672.86,366.13 1672.86,369.44 1661.71,366.16 1650.56,363.22 1639.41,359.48 1628.26,355.71 1617.11,352.83 1605.96,349.99 1594.81,344.6 1583.66,337.99 1572.51,330.38 1561.36,320.92 1550.21,317.61 1539.06,300.24 1527.91,281.09 1516.76,269.33"/>
<polyline class="hl" points="1516.76,282.25 1527.91,291.03 1539.06,307.75 1550.21,321.42 1561.36,323.53 1572.51,331.43 1583.66,338.47 1594.81,344.6 1605.96,348.99 1617.11,350.73 1628.26,353.05 1639.41,356.36 1650.56,360.04 1661.71,362.15 1672.86,366.21"/>
<polyline class="hl" points="1516.76,233.65 1527.91,255.01 1539.06,279.6 1550.21,303.66 1561.36,312.97 1572.51,327.05 1583.66,336.73 1594.81,344.6 1605.96,350.73 1617.11,354.25 1628.26,357.77 1639.41,361.28 1650.56,364.8 1661.71,367.45 1672.86,370.06"/>
<polyline class="hl" points="1516.76,267.68 1527.91,279.6 1539.06,298.94 1550.21,316.49 1561.36,320.01 1572.51,329.7 1583.66,337.56 1594.81,344.6 1605.96,349.86 1617.11,352.51 1628.26,355.16 1639.41,358.68 1650.56,362.15 1661.71,364.8 1672.86,367.78"/>
<polyline class="ln" stroke="#26204d" points="1516.76,282.25 1527.91,291.03 1539.06,307.75 1550.21,321.42 1561.36,323.53 1572.51,331.43 1583.66,338.47 1594.81,344.6 1605.96,348.99 1617.11,350.73 1628.26,353.05 1639.41,356.36 1650.56,360.04 1661.71,362.15 1672.86,366.21"/>
<polyline class="ln" stroke="#06867e" points="1516.76,233.65 1527.91,255.01 1539.06,279.6 1550.21,303.66 1561.36,312.97 1572.51,327.05 1583.66,336.73 1594.81,344.6 1605.96,350.73 1617.11,354.25 1628.26,357.77 1639.41,361.28 1650.56,364.8 1661.71,367.45 1672.86,370.06"/>
<polyline class="ln" stroke="#fbe30d" points="1516.76,267.68 1527.91,279.6 1539.06,298.94 1550.21,316.49 1561.36,320.01 1572.51,329.7 1583.66,337.56 1594.81,344.6 1605.96,349.86 1617.11,352.51 1628.26,355.16 1639.41,358.68 1650.56,362.15 1661.71,364.8 1672.86,367.78"/>
<path class="dh" d="M1509.2 344.6H1680.9"/>
<path class="dh" d="M1594.81 385.7V219.1"/>
</g>
<text class="xl" transform="translate(1512.3 398) rotate(.02) scale(0.955 1)">1930</text>
<text class="xl" transform="translate(1556.9 398) rotate(.02) scale(0.955 1)">1950</text>
<text class="xl" transform="translate(1601.5 398) rotate(.02) scale(0.955 1)">1970</text>
<text class="xl" transform="translate(1646.1 398) rotate(.02) scale(0.955 1)">1990</text>
<path class="tk" d="M1512.3 385v3.4M1556.9 385v3.4M1601.5 385v3.4M1646.1 385v3.4"/>
<rect class="st" x="1687.2" y="199" width="171.7" height="20.1"/>
<text class="sl" transform="translate(1773.05 213.25) rotate(.02) scale(0.98 1)">High SDI</text>
<rect class="pn" x="1687.2" y="219.1" width="171.7" height="165.9"/>
<path class="gm" d="M1687.2 365.3h171.7M1687.2 323.9h171.7M1687.2 282.5h171.7M1687.2 241.1h171.7M1712.6 219.1v165.9M1757.2 219.1v165.9M1801.8 219.1v165.9M1846.4 219.1v165.9"/>
<path class="gM" d="M1687.2 344.6h171.7M1687.2 303.2h171.7M1687.2 261.8h171.7M1687.2 220.4h171.7M1690.3 219.1v165.9M1734.9 219.1v165.9M1779.5 219.1v165.9M1824.1 219.1v165.9"/>
<g clip-path="url(#c18)">
<polygon class="rb" fill="#26204d" points="1694.76,253.52 1705.91,281.14 1717.06,304.48 1728.21,320.73 1739.36,325.09 1750.51,331.99 1761.66,339.15 1772.81,344.6 1783.96,345.89 1795.11,343.57 1806.26,341.71 1817.41,342.99 1828.56,348.01 1839.71,351.99 1850.86,355.03 1850.86,379.87 1839.71,372.32 1828.56,364.05 1817.41,354.99 1806.26,349.97 1795.11,348.44 1783.96,347.87 1772.81,344.6 1761.66,341.27 1750.51,335.43 1739.36,329.67 1728.21,326.33 1717.06,311.03 1705.91,288.58 1694.76,261.8"/>
<polygon class="rb" fill="#06867e" points="1694.76,229.51 1705.91,264.38 1717.06,294.03 1728.21,314.07 1739.36,321.83 1750.51,329.72 1761.66,337.75 1772.81,344.6 1783.96,347.42 1795.11,348.18 1806.26,349.72 1817.41,353.16 1828.56,358.07 1839.71,362.33 1850.86,367.16 1850.86,375.44 1839.71,369.1 1828.56,363.42 1817.41,357.16 1806.26,352.48 1795.11,349.8 1783.96,348.08 1772.81,344.6 1761.66,340.93 1750.51,334.89 1739.36,328.7 1728.21,322.47 1717.06,303.84 1705.91,275.53 1694.76,241.93"/>
<polygon class="rb" fill="#fbe30d" points="1694.76,249.59 1705.91,276.63 1717.06,301.58 1728.21,319.18 1739.36,324.84 1750.51,331.8 1761.66,338.83 1772.81,344.6 1783.96,346.99 1795.11,347.1 1806.26,347.89 1817.41,350.91 1828.56,356.54 1839.71,361.22 1850.86,365.88 1850.86,372.5 1839.71,366.64 1828.56,360.81 1817.41,354.11 1806.26,350.09 1795.11,348.4 1783.96,347.51 1772.81,344.6 1761.66,340.52 1750.51,334.55 1739.36,328.5 1728.21,323.65 1717.06,306.81 1705.91,282.58 1694.76,256.21"/>
<polyline class="hl" points="1694.76,257.66 1705.91,284.86 1717.06,307.75 1728.21,323.53 1739.36,327.38 1750.51,333.71 1761.66,340.21 1772.81,344.6 1783.96,346.88 1795.11,346.01 1806.26,345.84 1817.41,348.99 1828.56,356.03 1839.71,362.15 1850.86,367.45"/>
<polyline class="hl" points="1694.76,235.72 1705.91,269.96 1717.06,298.94 1728.21,318.27 1739.36,325.27 1750.51,332.3 1761.66,339.34 1772.81,344.6 1783.96,347.75 1795.11,348.99 1806.26,351.1 1817.41,355.16 1828.56,360.75 1839.71,365.71 1850.86,371.3"/>
<polyline class="hl" points="1694.76,252.9 1705.91,279.6 1717.06,304.19 1728.21,321.42 1739.36,326.67 1750.51,333.17 1761.66,339.67 1772.81,344.6 1783.96,347.25 1795.11,347.75 1806.26,348.99 1817.41,352.51 1828.56,358.68 1839.71,363.93 1850.86,369.19"/>
<polyline class="ln" stroke="#26204d" points="1694.76,257.66 1705.91,284.86 1717.06,307.75 1728.21,323.53 1739.36,327.38 1750.51,333.71 1761.66,340.21 1772.81,344.6 1783.96,346.88 1795.11,346.01 1806.26,345.84 1817.41,348.99 1828.56,356.03 1839.71,362.15 1850.86,367.45"/>
<polyline class="ln" stroke="#06867e" points="1694.76,235.72 1705.91,269.96 1717.06,298.94 1728.21,318.27 1739.36,325.27 1750.51,332.3 1761.66,339.34 1772.81,344.6 1783.96,347.75 1795.11,348.99 1806.26,351.1 1817.41,355.16 1828.56,360.75 1839.71,365.71 1850.86,371.3"/>
<polyline class="ln" stroke="#fbe30d" points="1694.76,252.9 1705.91,279.6 1717.06,304.19 1728.21,321.42 1739.36,326.67 1750.51,333.17 1761.66,339.67 1772.81,344.6 1783.96,347.25 1795.11,347.75 1806.26,348.99 1817.41,352.51 1828.56,358.68 1839.71,363.93 1850.86,369.19"/>
<path class="dh" d="M1687.2 344.6H1858.9"/>
<path class="dh" d="M1772.81 385.7V219.1"/>
</g>
<text class="xl" transform="translate(1690.3 398) rotate(.02) scale(0.955 1)">1930</text>
<text class="xl" transform="translate(1734.9 398) rotate(.02) scale(0.955 1)">1950</text>
<text class="xl" transform="translate(1779.5 398) rotate(.02) scale(0.955 1)">1970</text>
<text class="xl" transform="translate(1824.1 398) rotate(.02) scale(0.955 1)">1990</text>
<path class="tk" d="M1690.3 385v3.4M1734.9 385v3.4M1779.5 385v3.4M1824.1 385v3.4"/>
<text class="at" transform="translate(1595.05 413.2) rotate(.02) scale(0.97 1)">Birth cohort</text>
<text class="at" transform="translate(1314.3 206.1) rotate(-90.02) scale(0.948 1)">Risk ratio</text>
<text class="lt" transform="translate(1878.3 176.8) rotate(.02) scale(0.97 1)">group</text>
<rect x="1878.3" y="185.6" width="19.4" height="18.5" fill="#dedade"/>
<path class="lk" stroke="#26204d" d="M1879.9 194.9h16.4"/>
<text class="ll" transform="translate(1904.2 199.1) rotate(.02) scale(1.03 1)">Male</text>
<rect x="1878.3" y="205.5" width="19.4" height="18.5" fill="#dde3e2"/>
<path class="lk" stroke="#06867e" d="M1879.9 214.8h16.4"/>
<text class="ll" transform="translate(1904.2 219) rotate(.02) scale(1.03 1)">Female</text>
<rect x="1878.3" y="225.4" width="19.4" height="18.5" fill="#eeebdf"/>
<path class="lk" stroke="#fbe30d" d="M1879.9 234.7h16.4"/>
<text class="ll" transform="translate(1904.2 238.9) rotate(.02) scale(1.03 1)">Both</text>
<text class="pl" transform="translate(1602.5 465.9) rotate(.02) scale(1.08 1)">C</text>
</g>
<g class="fig" id="figD">
<rect class="st" x="42.5" y="504.3" width="168" height="20.8"/>
<text class="sl" transform="translate(126.5 518.9) rotate(.02) scale(0.98 1)">Global</text>
<rect class="pn" x="42.5" y="525.1" width="168" height="166"/>
<path class="gm" d="M42.5 662.65h168M42.5 615.85h168M42.5 569.05h168M75.58 525.1v166M109.53 525.1v166M143.47 525.1v166M177.43 525.1v166"/>
<path class="gM" d="M42.5 686.05h168M42.5 639.25h168M42.5 592.45h168M42.5 545.65h168M58.6 525.1v166M92.55 525.1v166M126.5 525.1v166M160.45 525.1v166M194.4 525.1v166"/>
<g clip-path="url(#c19)">
<polyline class="hl" points="50.11,683.57 67.09,682.87 84.06,681.65 101.04,679.87 118.01,675.8 134.99,666.67 151.96,650.48 168.94,628.02 185.91,601.34 202.89,560.63"/>
<polyline class="hl" points="50.11,681.98 67.09,681.14 84.06,679.87 101.04,678.09 118.01,675.1 134.99,670.18 151.96,659.61 168.94,647.25 185.91,631.9 202.89,603.68"/>
<polyline class="hl" points="50.11,682.87 67.09,681.98 84.06,680.76 101.04,679.03 118.01,675.47 134.99,668.41 151.96,654.32 168.94,636.68 185.91,616.04 202.89,583.56"/>
<polyline class="ln" stroke="#26204d" points="50.11,683.57 67.09,682.87 84.06,681.65 101.04,679.87 118.01,675.8 134.99,666.67 151.96,650.48 168.94,628.02 185.91,601.34 202.89,560.63"/>
<polyline class="ln" stroke="#06867e" points="50.11,681.98 67.09,681.14 84.06,679.87 101.04,678.09 118.01,675.1 134.99,670.18 151.96,659.61 168.94,647.25 185.91,631.9 202.89,603.68"/>
<polyline class="ln" stroke="#fbe30d" points="50.11,682.87 67.09,681.98 84.06,680.76 101.04,679.03 118.01,675.47 134.99,668.41 151.96,654.32 168.94,636.68 185.91,616.04 202.89,583.56"/>
</g>
<text class="yl" transform="translate(36.9 689.95) rotate(.02) scale(0.96 1)">0</text>
<text class="yl" transform="translate(36.9 643.15) rotate(.02) scale(0.96 1)">100</text>
<text class="yl" transform="translate(36.9 596.35) rotate(.02) scale(0.96 1)">200</text>
<text class="yl" transform="translate(36.9 549.55) rotate(.02) scale(0.96 1)">300</text>
<path class="tk" d="M39.1 686.05h3.4M39.1 639.25h3.4M39.1 592.45h3.4M39.1 545.65h3.4"/>
<rect class="st" x="217" y="504.3" width="168" height="20.8"/>
<text class="sl" transform="translate(301 518.9) rotate(.02) scale(0.98 1)">Low SDI</text>
<rect class="pn" x="217" y="525.1" width="168" height="166"/>
<path class="gm" d="M217 662.65h168M217 615.85h168M217 569.05h168M250.07 525.1v166M284.02 525.1v166M317.98 525.1v166M351.93 525.1v166"/>
<path class="gM" d="M217 686.05h168M217 639.25h168M217 592.45h168M217 545.65h168M233.1 525.1v166M267.05 525.1v166M301 525.1v166M334.95 525.1v166M368.9 525.1v166"/>
<g clip-path="url(#c20)">
<polyline class="hl" points="224.61,683.05 241.59,682.35 258.56,681.28 275.54,679.54 292.51,676.36 309.49,667.52 326.46,653.43 343.44,638.45 360.41,619.92 377.39,592.08"/>
<polyline class="hl" points="224.61,682.35 241.59,681.28 258.56,679.69 275.54,677.25 292.51,672.81 309.49,664.05 326.46,651.65 343.44,639.72 360.41,626.15 377.39,599.98"/>
<polyline class="hl" points="224.61,682.68 241.59,681.84 258.56,680.43 275.54,678.47 292.51,674.58 309.49,665.79 326.46,652.54 343.44,638.97 360.41,622.87 377.39,596.19"/>
<polyline class="ln" stroke="#26204d" points="224.61,683.05 241.59,682.35 258.56,681.28 275.54,679.54 292.51,676.36 309.49,667.52 326.46,653.43 343.44,638.45 360.41,619.92 377.39,592.08"/>
<polyline class="ln" stroke="#06867e" points="224.61,682.35 241.59,681.28 258.56,679.69 275.54,677.25 292.51,672.81 309.49,664.05 326.46,651.65 343.44,639.72 360.41,626.15 377.39,599.98"/>
<polyline class="ln" stroke="#fbe30d" points="224.61,682.68 241.59,681.84 258.56,680.43 275.54,678.47 292.51,674.58 309.49,665.79 326.46,652.54 343.44,638.97 360.41,622.87 377.39,596.19"/>
</g>
<rect class="st" x="391.4" y="504.3" width="168" height="20.8"/>
<text class="sl" transform="translate(475.4 518.9) rotate(.02) scale(0.98 1)">Low-middle SDI</text>
<rect class="pn" x="391.4" y="525.1" width="168" height="166"/>
<path class="gm" d="M391.4 662.65h168M391.4 615.85h168M391.4 569.05h168M424.48 525.1v166M458.43 525.1v166M492.38 525.1v166M526.33 525.1v166"/>
<path class="gM" d="M391.4 686.05h168M391.4 639.25h168M391.4 592.45h168M391.4 545.65h168M407.5 525.1v166M441.45 525.1v166M475.4 525.1v166M509.35 525.1v166M543.3 525.1v166"/>
<g clip-path="url(#c21)">
<polyline class="hl" points="399.01,683.57 415.99,682.68 432.96,681.46 449.94,679.54 466.91,675.8 483.89,666.3 500.86,649.92 517.84,631.39 534.81,608.46 551.79,574.2"/>
<polyline class="hl" points="399.01,682.35 415.99,681.28 432.96,679.87 449.94,677.77 466.91,674.58 483.89,668.78 500.86,656.94 517.84,644.63 534.81,632.28 551.79,606.35"/>
<polyline class="hl" points="399.01,683.05 415.99,681.98 432.96,680.57 449.94,678.66 466.91,675.1 483.89,667.52 500.86,653.43 517.84,637.19 534.81,619.92 551.79,590.81"/>
<polyline class="ln" stroke="#26204d" points="399.01,683.57 415.99,682.68 432.96,681.46 449.94,679.54 466.91,675.8 483.89,666.3 500.86,649.92 517.84,631.39 534.81,608.46 551.79,574.2"/>
<polyline class="ln" stroke="#06867e" points="399.01,682.35 415.99,681.28 432.96,679.87 449.94,677.77 466.91,674.58 483.89,668.78 500.86,656.94 517.84,644.63 534.81,632.28 551.79,606.35"/>
<polyline class="ln" stroke="#fbe30d" points="399.01,683.05 415.99,681.98 432.96,680.57 449.94,678.66 466.91,675.1 483.89,667.52 500.86,653.43 517.84,637.19 534.81,619.92 551.79,590.81"/>
</g>
<rect class="st" x="42.5" y="698.1" width="168" height="20.1"/>
<text class="sl" transform="translate(126.5 712.35) rotate(.02) scale(0.98 1)">Middle SDI</text>
<rect class="pn" x="42.5" y="718.2" width="168" height="165.9"/>
<path class="gm" d="M42.5 855.85h168M42.5 809.05h168M42.5 762.25h168M75.58 718.2v165.9M109.53 718.2v165.9M143.47 718.2v165.9M177.43 718.2v165.9"/>
<path class="gM" d="M42.5 879.25h168M42.5 832.45h168M42.5 785.65h168M42.5 738.85h168M58.6 718.2v165.9M92.55 718.2v165.9M126.5 718.2v165.9M160.45 718.2v165.9M194.4 718.2v165.9"/>
<g clip-path="url(#c22)">
<polyline class="hl" points="50.11,876.77 67.09,876.07 84.06,874.85 101.04,872.89 118.01,869.42 134.99,860.06 151.96,843.45 168.94,820 185.91,789.16 202.89,734.5"/>
<polyline class="hl" points="50.11,875.18 67.09,874.48 84.06,873.26 101.04,871.48 118.01,868.16 134.99,862.87 151.96,852.29 168.94,838.53 185.91,821.78 202.89,786.59"/>
<polyline class="hl" points="50.11,876.07 67.09,875.37 84.06,874.15 101.04,872.37 118.01,868.86 134.99,861.47 151.96,847.71 168.94,828.8 185.91,805.91 202.89,761.78"/>
<polyline class="ln" stroke="#26204d" points="50.11,876.77 67.09,876.07 84.06,874.85 101.04,872.89 118.01,869.42 134.99,860.06 151.96,843.45 168.94,820 185.91,789.16 202.89,734.5"/>
<polyline class="ln" stroke="#06867e" points="50.11,875.18 67.09,874.48 84.06,873.26 101.04,871.48 118.01,868.16 134.99,862.87 151.96,852.29 168.94,838.53 185.91,821.78 202.89,786.59"/>
<polyline class="ln" stroke="#fbe30d" points="50.11,876.07 67.09,875.37 84.06,874.15 101.04,872.37 118.01,868.86 134.99,861.47 151.96,847.71 168.94,828.8 185.91,805.91 202.89,761.78"/>
</g>
<text class="yl" transform="translate(36.9 883.15) rotate(.02) scale(0.96 1)">0</text>
<text class="yl" transform="translate(36.9 836.35) rotate(.02) scale(0.96 1)">100</text>
<text class="yl" transform="translate(36.9 789.55) rotate(.02) scale(0.96 1)">200</text>
<text class="yl" transform="translate(36.9 742.75) rotate(.02) scale(0.96 1)">300</text>
<path class="tk" d="M39.1 879.25h3.4M39.1 832.45h3.4M39.1 785.65h3.4M39.1 738.85h3.4"/>
<text class="xl" transform="translate(58.6 897.1) rotate(.02) scale(0.955 1)">20</text>
<text class="xl" transform="translate(92.55 897.1) rotate(.02) scale(0.955 1)">30</text>
<text class="xl" transform="translate(126.5 897.1) rotate(.02) scale(0.955 1)">40</text>
<text class="xl" transform="translate(160.45 897.1) rotate(.02) scale(0.955 1)">50</text>
<text class="xl" transform="translate(194.4 897.1) rotate(.02) scale(0.955 1)">60</text>
<path class="tk" d="M58.6 884.1v3.4M92.55 884.1v3.4M126.5 884.1v3.4M160.45 884.1v3.4M194.4 884.1v3.4"/>
<rect class="st" x="217" y="698.1" width="168" height="20.1"/>
<text class="sl" transform="translate(301 712.35) rotate(.02) scale(0.98 1)">High-middle SDI</text>
<rect class="pn" x="217" y="718.2" width="168" height="165.9"/>
<path class="gm" d="M217 855.85h168M217 809.05h168M217 762.25h168M250.07 718.2v165.9M284.02 718.2v165.9M317.98 718.2v165.9M351.93 718.2v165.9"/>
<path class="gM" d="M217 879.25h168M217 832.45h168M217 785.65h168M217 738.85h168M233.1 718.2v165.9M267.05 718.2v165.9M301 718.2v165.9M334.95 718.2v165.9M368.9 718.2v165.9"/>
<g clip-path="url(#c23)">
<polyline class="hl" points="224.61,876.96 241.59,876.25 258.56,875.04 275.54,872.89 292.51,869 309.49,857.91 326.46,839.38 343.44,812.93 360.41,780.31 377.39,727.76"/>
<polyline class="hl" points="224.61,875.04 241.59,874.34 258.56,873.07 275.54,871.29 292.51,868.49 309.49,862.87 326.46,852.29 343.44,836.76 360.41,817.94 377.39,784.71"/>
<polyline class="hl" points="224.61,876.07 241.59,875.37 258.56,874.15 275.54,872.04 292.51,868.86 309.49,860.53 326.46,845.55 343.44,825.29 360.41,799.69 377.39,757.76"/>
<polyline class="ln" stroke="#26204d" points="224.61,876.96 241.59,876.25 258.56,875.04 275.54,872.89 292.51,869 309.49,857.91 326.46,839.38 343.44,812.93 360.41,780.31 377.39,727.76"/>
<polyline class="ln" stroke="#06867e" points="224.61,875.04 241.59,874.34 258.56,873.07 275.54,871.29 292.51,868.49 309.49,862.87 326.46,852.29 343.44,836.76 360.41,817.94 377.39,784.71"/>
<polyline class="ln" stroke="#fbe30d" points="224.61,876.07 241.59,875.37 258.56,874.15 275.54,872.04 292.51,868.86 309.49,860.53 326.46,845.55 343.44,825.29 360.41,799.69 377.39,757.76"/>
</g>
<text class="xl" transform="translate(233.1 897.1) rotate(.02) scale(0.955 1)">20</text>
<text class="xl" transform="translate(267.05 897.1) rotate(.02) scale(0.955 1)">30</text>
<text class="xl" transform="translate(301 897.1) rotate(.02) scale(0.955 1)">40</text>
<text class="xl" transform="translate(334.95 897.1) rotate(.02) scale(0.955 1)">50</text>
<text class="xl" transform="translate(368.9 897.1) rotate(.02) scale(0.955 1)">60</text>
<path class="tk" d="M233.1 884.1v3.4M267.05 884.1v3.4M301 884.1v3.4M334.95 884.1v3.4M368.9 884.1v3.4"/>
<rect class="st" x="391.4" y="698.1" width="168" height="20.1"/>
<text class="sl" transform="translate(475.4 712.35) rotate(.02) scale(0.98 1)">High SDI</text>
<rect class="pn" x="391.4" y="718.2" width="168" height="165.9"/>
<path class="gm" d="M391.4 855.85h168M391.4 809.05h168M391.4 762.25h168M424.48 718.2v165.9M458.43 718.2v165.9M492.38 718.2v165.9M526.33 718.2v165.9"/>
<path class="gM" d="M391.4 879.25h168M391.4 832.45h168M391.4 785.65h168M391.4 738.85h168M407.5 718.2v165.9M441.45 718.2v165.9M475.4 718.2v165.9M509.35 718.2v165.9M543.3 718.2v165.9"/>
<g clip-path="url(#c24)">
<polyline class="hl" points="399.01,876.96 415.99,876.25 432.96,875.18 449.94,873.26 466.91,869 483.89,860.53 500.86,847.33 517.84,830.58 534.81,812.05 551.79,786.87"/>
<polyline class="hl" points="399.01,876.58 415.99,876.07 432.96,875.04 449.94,873.26 466.91,870.83 483.89,865.87 500.86,859.69 517.84,852.62 534.81,844.66 551.79,828.8"/>
<polyline class="hl" points="399.01,876.77 415.99,876.07 432.96,875.04 449.94,873.07 466.91,869.75 483.89,862.87 500.86,852.62 517.84,841.15 534.81,828.28 551.79,808.21"/>
<polyline class="ln" stroke="#26204d" points="399.01,876.96 415.99,876.25 432.96,875.18 449.94,873.26 466.91,869 483.89,860.53 500.86,847.33 517.84,830.58 534.81,812.05 551.79,786.87"/>
<polyline class="ln" stroke="#06867e" points="399.01,876.58 415.99,876.07 432.96,875.04 449.94,873.26 466.91,870.83 483.89,865.87 500.86,859.69 517.84,852.62 534.81,844.66 551.79,828.8"/>
<polyline class="ln" stroke="#fbe30d" points="399.01,876.77 415.99,876.07 432.96,875.04 449.94,873.07 466.91,869.75 483.89,862.87 500.86,852.62 517.84,841.15 534.81,828.28 551.79,808.21"/>
</g>
<text class="xl" transform="translate(407.5 897.1) rotate(.02) scale(0.955 1)">20</text>
<text class="xl" transform="translate(441.45 897.1) rotate(.02) scale(0.955 1)">30</text>
<text class="xl" transform="translate(475.4 897.1) rotate(.02) scale(0.955 1)">40</text>
<text class="xl" transform="translate(509.35 897.1) rotate(.02) scale(0.955 1)">50</text>
<text class="xl" transform="translate(543.3 897.1) rotate(.02) scale(0.955 1)">60</text>
<path class="tk" d="M407.5 884.1v3.4M441.45 884.1v3.4M475.4 884.1v3.4M509.35 884.1v3.4M543.3 884.1v3.4"/>
<text class="at" transform="translate(300.95 912.3) rotate(.02) scale(0.97 1)">Age</text>
<text class="at" transform="translate(14.2 705.2) rotate(-90.02) scale(0.948 1)">Rate (per 100000 populations)</text>
<text class="lt" transform="translate(578.8 675.9) rotate(.02) scale(0.97 1)">group</text>
<rect x="578.8" y="684.7" width="19.4" height="18.5" fill="#dedade"/>
<path class="lk" stroke="#26204d" d="M580.4 694h16.4"/>
<text class="ll" transform="translate(604.7 698.2) rotate(.02) scale(1.03 1)">Male</text>
<rect x="578.8" y="704.6" width="19.4" height="18.5" fill="#dde3e2"/>
<path class="lk" stroke="#06867e" d="M580.4 713.9h16.4"/>
<text class="ll" transform="translate(604.7 718.1) rotate(.02) scale(1.03 1)">Female</text>
<rect x="578.8" y="724.5" width="19.4" height="18.5" fill="#eeebdf"/>
<path class="lk" stroke="#fbe30d" d="M580.4 733.8h16.4"/>
<text class="ll" transform="translate(604.7 738) rotate(.02) scale(1.03 1)">Both</text>
<text class="pl" transform="translate(301.6 962.8) rotate(.02) scale(1.02 1)">D</text>
</g>
<g class="fig" id="figE">
<rect class="st" x="681.2" y="504.3" width="168.9" height="20.8"/>
<text class="sl" transform="translate(765.65 518.9) rotate(.02) scale(0.98 1)">Global</text>
<rect class="pn" x="681.2" y="525.1" width="168.9" height="166"/>
<path class="gm" d="M681.2 664.8h168.9M681.2 610.8h168.9M681.2 556.8h168.9M707.15 525.1v166M737.85 525.1v166M768.55 525.1v166M799.25 525.1v166M829.95 525.1v166"/>
<path class="gM" d="M681.2 637.8h168.9M681.2 583.8h168.9M681.2 529.8h168.9M691.8 525.1v166M722.5 525.1v166M753.2 525.1v166M783.9 525.1v166M814.6 525.1v166M845.3 525.1v166"/>
<g clip-path="url(#c25)">
<polygon class="rb" fill="#26204d" points="688.73,632.62 719.43,633.01 750.13,629.35 780.83,637.8 811.53,654.74 842.23,648.82 842.23,653.14 811.53,656.5 780.83,637.8 750.13,632.86 719.43,638.7 688.73,640.18"/>
<polygon class="rb" fill="#06867e" points="688.73,575.7 719.43,597.02 750.13,611.69 780.83,637.8 811.53,657.44 842.23,633.48 842.23,637.8 811.53,659.2 780.83,637.8 750.13,613.69 719.43,600.28 688.73,580.02"/>
<polygon class="rb" fill="#fbe30d" points="688.73,607.56 719.43,617.14 750.13,621.39 780.83,637.8 811.53,656.31 842.23,643.9 842.23,647.14 811.53,657.63 780.83,637.8 750.13,622.89 719.43,619.58 688.73,610.8"/>
<polyline class="hl" points="688.73,636.4 719.43,635.86 750.13,631.1 780.83,637.8 811.53,655.62 842.23,650.98"/>
<polyline class="hl" points="688.73,577.86 719.43,598.65 750.13,612.69 780.83,637.8 811.53,658.32 842.23,635.64"/>
<polyline class="hl" points="688.73,609.18 719.43,618.36 750.13,622.14 780.83,637.8 811.53,656.97 842.23,645.52"/>
<polyline class="ln" stroke="#26204d" points="688.73,636.4 719.43,635.86 750.13,631.1 780.83,637.8 811.53,655.62 842.23,650.98"/>
<polyline class="ln" stroke="#06867e" points="688.73,577.86 719.43,598.65 750.13,612.69 780.83,637.8 811.53,658.32 842.23,635.64"/>
<polyline class="ln" stroke="#fbe30d" points="688.73,609.18 719.43,618.36 750.13,622.14 780.83,637.8 811.53,656.97 842.23,645.52"/>
<path class="dh" d="M681.2 637.8H850.1"/>
<path class="dh" d="M780.83 691.8V525.1"/>
</g>
<text class="yl" transform="translate(675.6 641.7) rotate(.02) scale(0.96 1)">1.0</text>
<text class="yl" transform="translate(675.6 587.7) rotate(.02) scale(0.96 1)">1.1</text>
<text class="yl" transform="translate(675.6 533.7) rotate(.02) scale(0.96 1)">1.2</text>
<path class="tk" d="M677.8 637.8h3.4M677.8 583.8h3.4M677.8 529.8h3.4"/>
<rect class="st" x="856.5" y="504.3" width="168.9" height="20.8"/>
<text class="sl" transform="translate(940.95 518.9) rotate(.02) scale(0.98 1)">Low SDI</text>
<rect class="pn" x="856.5" y="525.1" width="168.9" height="166"/>
<path class="gm" d="M856.5 664.8h168.9M856.5 610.8h168.9M856.5 556.8h168.9M882.45 525.1v166M913.15 525.1v166M943.85 525.1v166M974.55 525.1v166M1005.25 525.1v166"/>
<path class="gM" d="M856.5 637.8h168.9M856.5 583.8h168.9M856.5 529.8h168.9M867.1 525.1v166M897.8 525.1v166M928.5 525.1v166M959.2 525.1v166M989.9 525.1v166M1020.6 525.1v166"/>
<g clip-path="url(#c26)">
<polygon class="rb" fill="#26204d" points="864.03,617.98 894.73,619.21 925.43,621.08 956.13,637.8 986.83,654.84 1017.53,652.27 1017.53,660.91 986.83,658.35 956.13,637.8 925.43,627.09 894.73,628.96 864.03,630.94"/>
<polygon class="rb" fill="#06867e" points="864.03,572.46 894.73,591.13 925.43,610.01 956.13,637.8 986.83,648.14 1017.53,636.83 1017.53,645.47 986.83,651.65 956.13,637.8 925.43,616.02 894.73,600.88 864.03,585.42"/>
<polygon class="rb" fill="#fbe30d" points="864.03,596.98 894.73,605.55 925.43,615.6 956.13,637.8 986.83,652.31 1017.53,645.95 1017.53,652.43 986.83,654.94 956.13,637.8 925.43,619.61 894.73,612.05 864.03,605.62"/>
<polyline class="hl" points="864.03,624.46 894.73,624.08 925.43,624.08 956.13,637.8 986.83,656.59 1017.53,656.59"/>
<polyline class="hl" points="864.03,578.94 894.73,596 925.43,613.01 956.13,637.8 986.83,649.9 1017.53,641.15"/>
<polyline class="hl" points="864.03,601.3 894.73,608.8 925.43,617.6 956.13,637.8 986.83,653.62 1017.53,649.19"/>
<polyline class="ln" stroke="#26204d" points="864.03,624.46 894.73,624.08 925.43,624.08 956.13,637.8 986.83,656.59 1017.53,656.59"/>
<polyline class="ln" stroke="#06867e" points="864.03,578.94 894.73,596 925.43,613.01 956.13,637.8 986.83,649.9 1017.53,641.15"/>
<polyline class="ln" stroke="#fbe30d" points="864.03,601.3 894.73,608.8 925.43,617.6 956.13,637.8 986.83,653.62 1017.53,649.19"/>
<path class="dh" d="M856.5 637.8H1025.4"/>
<path class="dh" d="M956.13 691.8V525.1"/>
</g>
<rect class="st" x="1031.8" y="504.3" width="168.9" height="20.8"/>
<text class="sl" transform="translate(1116.25 518.9) rotate(.02) scale(0.98 1)">Low-middle SDI</text>
<rect class="pn" x="1031.8" y="525.1" width="168.9" height="166"/>
<path class="gm" d="M1031.8 664.8h168.9M1031.8 610.8h168.9M1031.8 556.8h168.9M1057.75 525.1v166M1088.45 525.1v166M1119.15 525.1v166M1149.85 525.1v166M1180.55 525.1v166"/>
<path class="gM" d="M1031.8 637.8h168.9M1031.8 583.8h168.9M1031.8 529.8h168.9M1042.4 525.1v166M1073.1 525.1v166M1103.8 525.1v166M1134.5 525.1v166M1165.2 525.1v166M1195.9 525.1v166"/>
<g clip-path="url(#c27)">
<polygon class="rb" fill="#26204d" points="1039.33,662.64 1070.03,654.25 1100.73,640.05 1131.43,637.8 1162.13,648.36 1192.83,645.9 1192.83,652.38 1162.13,651 1131.43,637.8 1100.73,645.05 1070.03,662.39 1039.33,673.44"/>
<polygon class="rb" fill="#06867e" points="1039.33,607.4 1070.03,622.69 1100.73,629.25 1131.43,637.8 1162.13,640.8 1192.83,624.52 1192.83,633.16 1162.13,644.31 1131.43,637.8 1100.73,635.76 1070.03,633.26 1039.33,621.44"/>
<polygon class="rb" fill="#fbe30d" points="1039.33,638.77 1070.03,640.49 1100.73,635.26 1131.43,637.8 1162.13,645.66 1192.83,637.91 1192.83,644.39 1162.13,648.3 1131.43,637.8 1100.73,639.26 1070.03,646.99 1039.33,647.41"/>
<polyline class="hl" points="1039.33,668.04 1070.03,658.32 1100.73,642.55 1131.43,637.8 1162.13,649.68 1192.83,649.14"/>
<polyline class="hl" points="1039.33,614.42 1070.03,627.97 1100.73,632.51 1131.43,637.8 1162.13,642.55 1192.83,628.84"/>
<polyline class="hl" points="1039.33,643.09 1070.03,643.74 1100.73,637.26 1131.43,637.8 1162.13,646.98 1192.83,641.15"/>
<polyline class="ln" stroke="#26204d" points="1039.33,668.04 1070.03,658.32 1100.73,642.55 1131.43,637.8 1162.13,649.68 1192.83,649.14"/>
<polyline class="ln" stroke="#06867e" points="1039.33,614.42 1070.03,627.97 1100.73,632.51 1131.43,637.8 1162.13,642.55 1192.83,628.84"/>
<polyline class="ln" stroke="#fbe30d" points="1039.33,643.09 1070.03,643.74 1100.73,637.26 1131.43,637.8 1162.13,646.98 1192.83,641.15"/>
<path class="dh" d="M1031.8 637.8H1200.7"/>
<path class="dh" d="M1131.43 691.8V525.1"/>
</g>
<rect class="st" x="681.2" y="698.1" width="168.9" height="20.1"/>
<text class="sl" transform="translate(765.65 712.35) rotate(.02) scale(0.98 1)">Middle SDI</text>
<rect class="pn" x="681.2" y="718.2" width="168.9" height="165.9"/>
<path class="gm" d="M681.2 858h168.9M681.2 804h168.9M681.2 750h168.9M707.15 718.2v165.9M737.85 718.2v165.9M768.55 718.2v165.9M799.25 718.2v165.9M829.95 718.2v165.9"/>
<path class="gM" d="M681.2 831h168.9M681.2 777h168.9M681.2 723h168.9M691.8 718.2v165.9M722.5 718.2v165.9M753.2 718.2v165.9M783.9 718.2v165.9M814.6 718.2v165.9M845.3 718.2v165.9"/>
<g clip-path="url(#c28)">
<polygon class="rb" fill="#26204d" points="688.73,859.35 719.43,860.55 750.13,841.38 780.83,831 811.53,837.95 842.23,829 842.23,835.48 811.53,840.58 780.83,831 750.13,845.89 719.43,867.87 688.73,869.07"/>
<polygon class="rb" fill="#06867e" points="688.73,773.44 719.43,797.86 750.13,808.55 780.83,831 811.53,850.74 842.23,819.88 842.23,826.36 811.53,853.38 780.83,831 750.13,813.06 719.43,805.18 688.73,783.16"/>
<polygon class="rb" fill="#fbe30d" points="688.73,818.8 719.43,830.72 750.13,826.3 780.83,831 811.53,845.19 842.23,826.9 842.23,832.3 811.53,847.38 780.83,831 750.13,830.3 719.43,837.22 688.73,827.44"/>
<polyline class="hl" points="688.73,864.21 719.43,864.21 750.13,843.64 780.83,831 811.53,839.26 842.23,832.24"/>
<polyline class="hl" points="688.73,778.3 719.43,801.52 750.13,810.8 780.83,831 811.53,852.06 842.23,823.12"/>
<polyline class="hl" points="688.73,823.12 719.43,833.97 750.13,828.3 780.83,831 811.53,846.28 842.23,829.6"/>
<polyline class="ln" stroke="#26204d" points="688.73,864.21 719.43,864.21 750.13,843.64 780.83,831 811.53,839.26 842.23,832.24"/>
<polyline class="ln" stroke="#06867e" points="688.73,778.3 719.43,801.52 750.13,810.8 780.83,831 811.53,852.06 842.23,823.12"/>
<polyline class="ln" stroke="#fbe30d" points="688.73,823.12 719.43,833.97 750.13,828.3 780.83,831 811.53,846.28 842.23,829.6"/>
<path class="dh" d="M681.2 831H850.1"/>
<path class="dh" d="M780.83 884.8V718.2"/>
</g>
<text class="yl" transform="translate(675.6 834.9) rotate(.02) scale(0.96 1)">1.0</text>
<text class="yl" transform="translate(675.6 780.9) rotate(.02) scale(0.96 1)">1.1</text>
<text class="yl" transform="translate(675.6 726.9) rotate(.02) scale(0.96 1)">1.2</text>
<path class="tk" d="M677.8 831h3.4M677.8 777h3.4M677.8 723h3.4"/>
<text class="xl" transform="translate(691.8 897.1) rotate(.02) scale(0.955 1)">1995</text>
<text class="xl" transform="translate(722.5 897.1) rotate(.02) scale(0.955 1)">2000</text>
<text class="xl" transform="translate(753.2 897.1) rotate(.02) scale(0.955 1)">2005</text>
<text class="xl" transform="translate(783.9 897.1) rotate(.02) scale(0.955 1)">2010</text>
<text class="xl" transform="translate(814.6 897.1) rotate(.02) scale(0.955 1)">2015</text>
<text class="xl" transform="translate(845.3 897.1) rotate(.02) scale(0.955 1)">2020</text>
<path class="tk" d="M691.8 884.1v3.4M722.5 884.1v3.4M753.2 884.1v3.4M783.9 884.1v3.4M814.6 884.1v3.4M845.3 884.1v3.4"/>
<rect class="st" x="856.5" y="698.1" width="168.9" height="20.1"/>
<text class="sl" transform="translate(940.95 712.35) rotate(.02) scale(0.98 1)">High-middle SDI</text>
<rect class="pn" x="856.5" y="718.2" width="168.9" height="165.9"/>
<path class="gm" d="M856.5 858h168.9M856.5 804h168.9M856.5 750h168.9M882.45 718.2v165.9M913.15 718.2v165.9M943.85 718.2v165.9M974.55 718.2v165.9M1005.25 718.2v165.9"/>
<path class="gM" d="M856.5 831h168.9M856.5 777h168.9M856.5 723h168.9M867.1 718.2v165.9M897.8 718.2v165.9M928.5 718.2v165.9M959.2 718.2v165.9M989.9 718.2v165.9M1020.6 718.2v165.9"/>
<g clip-path="url(#c29)">
<polygon class="rb" fill="#26204d" points="864.03,798.65 894.73,808.46 925.43,812.05 956.13,831 986.83,859.49 1017.53,850.44 1017.53,859.08 986.83,862.99 956.13,831 925.43,819.06 894.73,819.84 864.03,813.77"/>
<polygon class="rb" fill="#06867e" points="864.03,733.69 894.73,762.5 925.43,785.74 956.13,831 986.83,869.1 1017.53,839.32 1017.53,847.96 986.83,872.61 956.13,831 925.43,793.75 894.73,775.51 864.03,750.97"/>
<polygon class="rb" fill="#fbe30d" points="864.03,770.52 894.73,789.08 925.43,800.78 956.13,831 986.83,864.24 1017.53,847.96 1017.53,854.44 986.83,866.88 956.13,831 925.43,806.79 894.73,798.83 864.03,783.48"/>
<polyline class="hl" points="864.03,806.21 894.73,814.15 925.43,815.56 956.13,831 986.83,861.24 1017.53,854.76"/>
<polyline class="hl" points="864.03,742.33 894.73,769.01 925.43,789.74 956.13,831 986.83,870.85 1017.53,843.64"/>
<polyline class="hl" points="864.03,777 894.73,793.96 925.43,803.78 956.13,831 986.83,865.56 1017.53,851.2"/>
<polyline class="ln" stroke="#26204d" points="864.03,806.21 894.73,814.15 925.43,815.56 956.13,831 986.83,861.24 1017.53,854.76"/>
<polyline class="ln" stroke="#06867e" points="864.03,742.33 894.73,769.01 925.43,789.74 956.13,831 986.83,870.85 1017.53,843.64"/>
<polyline class="ln" stroke="#fbe30d" points="864.03,777 894.73,793.96 925.43,803.78 956.13,831 986.83,865.56 1017.53,851.2"/>
<path class="dh" d="M856.5 831H1025.4"/>
<path class="dh" d="M956.13 884.8V718.2"/>
</g>
<text class="xl" transform="translate(867.1 897.1) rotate(.02) scale(0.955 1)">1995</text>
<text class="xl" transform="translate(897.8 897.1) rotate(.02) scale(0.955 1)">2000</text>
<text class="xl" transform="translate(928.5 897.1) rotate(.02) scale(0.955 1)">2005</text>
<text class="xl" transform="translate(959.2 897.1) rotate(.02) scale(0.955 1)">2010</text>
<text class="xl" transform="translate(989.9 897.1) rotate(.02) scale(0.955 1)">2015</text>
<text class="xl" transform="translate(1020.6 897.1) rotate(.02) scale(0.955 1)">2020</text>
<path class="tk" d="M867.1 884.1v3.4M897.8 884.1v3.4M928.5 884.1v3.4M959.2 884.1v3.4M989.9 884.1v3.4M1020.6 884.1v3.4"/>
<rect class="st" x="1031.8" y="698.1" width="168.9" height="20.1"/>
<text class="sl" transform="translate(1116.25 712.35) rotate(.02) scale(0.98 1)">High SDI</text>
<rect class="pn" x="1031.8" y="718.2" width="168.9" height="165.9"/>
<path class="gm" d="M1031.8 858h168.9M1031.8 804h168.9M1031.8 750h168.9M1057.75 718.2v165.9M1088.45 718.2v165.9M1119.15 718.2v165.9M1149.85 718.2v165.9M1180.55 718.2v165.9"/>
<path class="gM" d="M1031.8 831h168.9M1031.8 777h168.9M1031.8 723h168.9M1042.4 718.2v165.9M1073.1 718.2v165.9M1103.8 718.2v165.9M1134.5 718.2v165.9M1165.2 718.2v165.9M1195.9 718.2v165.9"/>
<g clip-path="url(#c30)">
<polygon class="rb" fill="#26204d" points="1039.33,763.07 1070.03,764.13 1100.73,787.98 1131.43,831 1162.13,855.39 1192.83,861.13 1192.83,866.53 1162.13,857.58 1131.43,831 1100.73,793.99 1070.03,773.89 1039.33,776.03"/>
<polygon class="rb" fill="#06867e" points="1039.33,727.48 1070.03,748.53 1100.73,785.42 1131.43,831 1162.13,852.1 1192.83,847.25 1192.83,851.57 1162.13,853.86 1131.43,831 1100.73,789.42 1070.03,755.03 1039.33,736.12"/>
<polygon class="rb" fill="#fbe30d" points="1039.33,750.27 1070.03,758.74 1100.73,787.2 1131.43,831 1162.13,854.53 1192.83,856.06 1192.83,860.38 1162.13,856.29 1131.43,831 1100.73,791.21 1070.03,765.24 1039.33,758.91"/>
<polyline class="hl" points="1039.33,769.55 1070.03,769.01 1100.73,790.99 1131.43,831 1162.13,856.49 1192.83,863.83"/>
<polyline class="hl" points="1039.33,731.8 1070.03,751.78 1100.73,787.42 1131.43,831 1162.13,852.98 1192.83,849.41"/>
<polyline class="hl" points="1039.33,754.59 1070.03,761.99 1100.73,789.2 1131.43,831 1162.13,855.41 1192.83,858.22"/>
<polyline class="ln" stroke="#26204d" points="1039.33,769.55 1070.03,769.01 1100.73,790.99 1131.43,831 1162.13,856.49 1192.83,863.83"/>
<polyline class="ln" stroke="#06867e" points="1039.33,731.8 1070.03,751.78 1100.73,787.42 1131.43,831 1162.13,852.98 1192.83,849.41"/>
<polyline class="ln" stroke="#fbe30d" points="1039.33,754.59 1070.03,761.99 1100.73,789.2 1131.43,831 1162.13,855.41 1192.83,858.22"/>
<path class="dh" d="M1031.8 831H1200.7"/>
<path class="dh" d="M1131.43 884.8V718.2"/>
</g>
<text class="xl" transform="translate(1042.4 897.1) rotate(.02) scale(0.955 1)">1995</text>
<text class="xl" transform="translate(1073.1 897.1) rotate(.02) scale(0.955 1)">2000</text>
<text class="xl" transform="translate(1103.8 897.1) rotate(.02) scale(0.955 1)">2005</text>
<text class="xl" transform="translate(1134.5 897.1) rotate(.02) scale(0.955 1)">2010</text>
<text class="xl" transform="translate(1165.2 897.1) rotate(.02) scale(0.955 1)">2015</text>
<text class="xl" transform="translate(1195.9 897.1) rotate(.02) scale(0.955 1)">2020</text>
<path class="tk" d="M1042.4 884.1v3.4M1073.1 884.1v3.4M1103.8 884.1v3.4M1134.5 884.1v3.4M1165.2 884.1v3.4M1195.9 884.1v3.4"/>
<text class="at" transform="translate(940.95 912.3) rotate(.02) scale(0.97 1)">Periods (year)</text>
<text class="at" transform="translate(655.8 705.2) rotate(-90.02) scale(0.948 1)">Rate ratio</text>
<text class="lt" transform="translate(1220.1 675.9) rotate(.02) scale(0.97 1)">group</text>
<rect x="1220.1" y="684.7" width="19.4" height="18.5" fill="#dedade"/>
<path class="lk" stroke="#26204d" d="M1221.7 694h16.4"/>
<text class="ll" transform="translate(1246 698.2) rotate(.02) scale(1.03 1)">Male</text>
<rect x="1220.1" y="704.6" width="19.4" height="18.5" fill="#dde3e2"/>
<path class="lk" stroke="#06867e" d="M1221.7 713.9h16.4"/>
<text class="ll" transform="translate(1246 718.1) rotate(.02) scale(1.03 1)">Female</text>
<rect x="1220.1" y="724.5" width="19.4" height="18.5" fill="#eeebdf"/>
<path class="lk" stroke="#fbe30d" d="M1221.7 733.8h16.4"/>
<text class="ll" transform="translate(1246 738) rotate(.02) scale(1.03 1)">Both</text>
<text class="pl" transform="translate(939.65 962.8) rotate(.02) scale(1.01 1)">E</text>
</g>
<g class="fig" id="figF">
<rect class="st" x="1344.9" y="504.3" width="167" height="20.8"/>
<text class="sl" transform="translate(1428.4 518.9) rotate(.02) scale(0.98 1)">Global</text>
<rect class="pn" x="1344.9" y="525.1" width="167" height="166"/>
<path class="gm" d="M1344.9 663.65h167M1344.9 630.55h167M1344.9 597.45h167M1344.9 564.35h167M1344.9 531.25h167M1369.5 525.1v166M1413.1 525.1v166M1456.7 525.1v166M1500.3 525.1v166"/>
<path class="gM" d="M1344.9 680.2h167M1344.9 647.1h167M1344.9 614h167M1344.9 580.9h167M1344.9 547.8h167M1347.7 525.1v166M1391.3 525.1v166M1434.9 525.1v166M1478.5 525.1v166"/>
<g clip-path="url(#c31)">
<polygon class="rb" fill="#26204d" points="1352.06,615.19 1362.96,621.79 1373.86,631.17 1384.76,637.91 1395.66,639.63 1406.56,642.42 1417.46,645.24 1428.36,647.1 1439.26,644.8 1450.16,643.01 1461.06,640.46 1471.96,639.76 1482.86,640.07 1493.76,639.6 1504.66,638.23 1504.66,647.5 1493.76,647.19 1482.86,646.05 1471.96,644.24 1461.06,643.54 1450.16,644.83 1439.26,645.54 1428.36,647.1 1417.46,645.78 1406.56,643.3 1395.66,640.8 1384.76,639.34 1373.86,632.84 1362.96,623.69 1352.06,617.31"/>
<polygon class="rb" fill="#06867e" points="1352.06,604.6 1362.96,611.73 1373.86,623.23 1384.76,632.48 1395.66,635.26 1406.56,639.51 1417.46,643.12 1428.36,647.1 1439.26,648.98 1450.16,650.55 1461.06,652.62 1471.96,655.99 1482.86,658.89 1493.76,661.64 1504.66,664.58 1504.66,667.22 1493.76,663.81 1482.86,660.6 1471.96,657.27 1461.06,653.5 1450.16,651.07 1439.26,649.19 1428.36,647.1 1417.46,643.66 1406.56,640.39 1395.66,636.43 1384.76,633.91 1373.86,624.9 1362.96,613.63 1352.06,606.72"/>
<polygon class="rb" fill="#fbe30d" points="1352.06,610.56 1362.96,617.26 1373.86,627.94 1384.76,635.49 1395.66,637.39 1406.56,640.81 1417.46,644.12 1428.36,647.1 1439.26,647.66 1450.16,647.77 1461.06,647.98 1471.96,649.77 1482.86,651.34 1493.76,652.9 1504.66,654.02 1504.66,656.67 1493.76,655.07 1482.86,653.05 1471.96,651.05 1461.06,648.86 1450.16,648.29 1439.26,647.87 1428.36,647.1 1417.46,644.52 1406.56,641.47 1395.66,638.27 1384.76,636.57 1373.86,629.19 1362.96,618.69 1352.06,612.15"/>
<polyline class="hl" points="1352.06,616.25 1362.96,622.74 1373.86,632.01 1384.76,638.63 1395.66,640.22 1406.56,642.86 1417.46,645.51 1428.36,647.1 1439.26,645.17 1450.16,643.92 1461.06,642 1471.96,642 1482.86,643.06 1493.76,643.39 1504.66,642.86"/>
<polyline class="hl" points="1352.06,605.66 1362.96,612.68 1373.86,624.06 1384.76,633.2 1395.66,635.85 1406.56,639.95 1417.46,643.39 1428.36,647.1 1439.26,649.09 1450.16,650.81 1461.06,653.06 1471.96,656.63 1482.86,659.74 1493.76,662.72 1504.66,665.9"/>
<polyline class="hl" points="1352.06,611.35 1362.96,617.97 1373.86,628.56 1384.76,636.03 1395.66,637.83 1406.56,641.14 1417.46,644.32 1428.36,647.1 1439.26,647.76 1450.16,648.03 1461.06,648.42 1471.96,650.41 1482.86,652.2 1493.76,653.98 1504.66,655.35"/>
<polyline class="ln" stroke="#26204d" points="1352.06,616.25 1362.96,622.74 1373.86,632.01 1384.76,638.63 1395.66,640.22 1406.56,642.86 1417.46,645.51 1428.36,647.1 1439.26,645.17 1450.16,643.92 1461.06,642 1471.96,642 1482.86,643.06 1493.76,643.39 1504.66,642.86"/>
<polyline class="ln" stroke="#06867e" points="1352.06,605.66 1362.96,612.68 1373.86,624.06 1384.76,633.2 1395.66,635.85 1406.56,639.95 1417.46,643.39 1428.36,647.1 1439.26,649.09 1450.16,650.81 1461.06,653.06 1471.96,656.63 1482.86,659.74 1493.76,662.72 1504.66,665.9"/>
<polyline class="ln" stroke="#fbe30d" points="1352.06,611.35 1362.96,617.97 1373.86,628.56 1384.76,636.03 1395.66,637.83 1406.56,641.14 1417.46,644.32 1428.36,647.1 1439.26,647.76 1450.16,648.03 1461.06,648.42 1471.96,650.41 1482.86,652.2 1493.76,653.98 1504.66,655.35"/>
<path class="dh" d="M1344.9 647.1H1511.9"/>
<path class="dh" d="M1428.36 691.8V525.1"/>
</g>
<text class="yl" transform="translate(1339.3 684.1) rotate(.02) scale(0.96 1)">0.75</text>
<text class="yl" transform="translate(1339.3 651) rotate(.02) scale(0.96 1)">1.00</text>
<text class="yl" transform="translate(1339.3 617.9) rotate(.02) scale(0.96 1)">1.25</text>
<text class="yl" transform="translate(1339.3 584.8) rotate(.02) scale(0.96 1)">1.50</text>
<text class="yl" transform="translate(1339.3 551.7) rotate(.02) scale(0.96 1)">1.75</text>
<path class="tk" d="M1341.5 680.2h3.4M1341.5 647.1h3.4M1341.5 614h3.4M1341.5 580.9h3.4M1341.5 547.8h3.4"/>
<rect class="st" x="1518.1" y="504.3" width="167" height="20.8"/>
<text class="sl" transform="translate(1601.6 518.9) rotate(.02) scale(0.98 1)">Low SDI</text>
<rect class="pn" x="1518.1" y="525.1" width="167" height="166"/>
<path class="gm" d="M1518.1 663.65h167M1518.1 630.55h167M1518.1 597.45h167M1518.1 564.35h167M1518.1 531.25h167M1542.7 525.1v166M1586.3 525.1v166M1629.9 525.1v166M1673.5 525.1v166"/>
<path class="gM" d="M1518.1 680.2h167M1518.1 647.1h167M1518.1 614h167M1518.1 580.9h167M1518.1 547.8h167M1520.9 525.1v166M1564.5 525.1v166M1608.1 525.1v166M1651.7 525.1v166"/>
<g clip-path="url(#c32)">
<polygon class="rb" fill="#26204d" points="1525.26,615.72 1536.16,621.68 1547.06,627.52 1557.96,632.97 1568.86,638.29 1579.76,641.65 1590.66,644.83 1601.56,647.1 1612.46,645.49 1623.36,646.45 1634.26,647.81 1645.16,648.34 1656.06,648.37 1666.96,649.17 1677.86,649.55 1677.86,654.85 1666.96,653.5 1656.06,651.79 1645.16,650.89 1634.26,649.57 1623.36,647.49 1612.46,645.91 1601.56,647.1 1590.66,645.51 1579.76,642.75 1568.86,639.76 1557.96,634.75 1547.06,629.61 1536.16,624.06 1525.26,618.37"/>
<polygon class="rb" fill="#06867e" points="1525.26,610.16 1536.16,615.86 1547.06,621.3 1557.96,626.74 1568.86,632.47 1579.76,636.35 1590.66,640.94 1601.56,647.1 1612.46,650.68 1623.36,653.99 1634.26,656.37 1645.16,658.12 1656.06,659.58 1666.96,661.42 1677.86,662.19 1677.86,665.37 1666.96,664.02 1656.06,661.63 1645.16,659.65 1634.26,657.43 1623.36,654.61 1612.46,650.93 1601.56,647.1 1590.66,641.61 1579.76,637.46 1568.86,633.93 1557.96,628.53 1547.06,623.39 1536.16,618.23 1525.26,612.81"/>
<polygon class="rb" fill="#fbe30d" points="1525.26,613.34 1536.16,619.14 1547.06,624.55 1557.96,629.83 1568.86,635.26 1579.76,638.98 1590.66,642.79 1601.56,647.1 1612.46,648.98 1623.36,651.61 1634.26,653.15 1645.16,654.19 1656.06,655.25 1666.96,656.34 1677.86,656.84 1677.86,659.49 1666.96,658.51 1656.06,656.96 1645.16,655.47 1634.26,654.03 1623.36,652.13 1612.46,649.19 1601.56,647.1 1590.66,643.33 1579.76,639.86 1568.86,636.43 1557.96,631.27 1547.06,626.22 1536.16,621.04 1525.26,615.46"/>
<polyline class="hl" points="1525.26,617.05 1536.16,622.87 1547.06,628.56 1557.96,633.86 1568.86,639.02 1579.76,642.2 1590.66,645.17 1601.56,647.1 1612.46,645.7 1623.36,646.97 1634.26,648.69 1645.16,649.62 1656.06,650.08 1666.96,651.34 1677.86,652.2"/>
<polyline class="hl" points="1525.26,611.48 1536.16,617.05 1547.06,622.34 1557.96,627.64 1568.86,633.2 1579.76,636.91 1590.66,641.27 1601.56,647.1 1612.46,650.81 1623.36,654.3 1634.26,656.9 1645.16,658.88 1656.06,660.6 1666.96,662.72 1677.86,663.78"/>
<polyline class="hl" points="1525.26,614.4 1536.16,620.09 1547.06,625.39 1557.96,630.55 1568.86,635.85 1579.76,639.42 1590.66,643.06 1601.56,647.1 1612.46,649.09 1623.36,651.87 1634.26,653.59 1645.16,654.83 1656.06,656.1 1666.96,657.43 1677.86,658.17"/>
<polyline class="ln" stroke="#26204d" points="1525.26,617.05 1536.16,622.87 1547.06,628.56 1557.96,633.86 1568.86,639.02 1579.76,642.2 1590.66,645.17 1601.56,647.1 1612.46,645.7 1623.36,646.97 1634.26,648.69 1645.16,649.62 1656.06,650.08 1666.96,651.34 1677.86,652.2"/>
<polyline class="ln" stroke="#06867e" points="1525.26,611.48 1536.16,617.05 1547.06,622.34 1557.96,627.64 1568.86,633.2 1579.76,636.91 1590.66,641.27 1601.56,647.1 1612.46,650.81 1623.36,654.3 1634.26,656.9 1645.16,658.88 1656.06,660.6 1666.96,662.72 1677.86,663.78"/>
<polyline class="ln" stroke="#fbe30d" points="1525.26,614.4 1536.16,620.09 1547.06,625.39 1557.96,630.55 1568.86,635.85 1579.76,639.42 1590.66,643.06 1601.56,647.1 1612.46,649.09 1623.36,651.87 1634.26,653.59 1645.16,654.83 1656.06,656.1 1666.96,657.43 1677.86,658.17"/>
<path class="dh" d="M1518.1 647.1H1685.1"/>
<path class="dh" d="M1601.56 691.8V525.1"/>
</g>
<rect class="st" x="1691.3" y="504.3" width="167" height="20.8"/>
<text class="sl" transform="translate(1774.8 518.9) rotate(.02) scale(0.98 1)">Low-middle SDI</text>
<rect class="pn" x="1691.3" y="525.1" width="167" height="166"/>
<path class="gm" d="M1691.3 663.65h167M1691.3 630.55h167M1691.3 597.45h167M1691.3 564.35h167M1691.3 531.25h167M1715.9 525.1v166M1759.5 525.1v166M1803.1 525.1v166M1846.7 525.1v166"/>
<path class="gM" d="M1691.3 680.2h167M1691.3 647.1h167M1691.3 614h167M1691.3 580.9h167M1691.3 547.8h167M1694.1 525.1v166M1737.7 525.1v166M1781.3 525.1v166M1824.9 525.1v166"/>
<g clip-path="url(#c33)">
<polygon class="rb" fill="#26204d" points="1698.46,638.1 1709.36,640.81 1720.26,644.12 1731.16,646.6 1742.06,647.96 1752.96,647.87 1763.86,647.42 1774.76,647.1 1785.66,644.32 1796.56,640.7 1807.46,636.82 1818.36,633.18 1829.26,629.98 1840.16,626.59 1851.06,621.94 1851.06,635.18 1840.16,637.42 1829.26,638.53 1818.36,639.57 1807.46,641.22 1796.56,643.3 1785.66,645.38 1774.76,647.1 1763.86,648.1 1752.96,648.97 1742.06,649.42 1731.16,648.39 1720.26,646.21 1709.36,643.19 1698.46,640.74"/>
<polygon class="rb" fill="#06867e" points="1698.46,628.96 1709.36,632.67 1720.26,637.05 1731.16,640.78 1742.06,643.59 1752.96,644.3 1763.86,645.17 1774.76,647.1 1785.66,647.45 1796.56,646.72 1807.46,645.78 1818.36,645.35 1829.26,646.12 1840.16,646.83 1851.06,645.78 1851.06,653.72 1840.16,653.33 1829.26,651.25 1818.36,649.19 1807.46,648.42 1796.56,648.28 1785.66,648.08 1774.76,647.1 1763.86,645.85 1752.96,645.4 1742.06,645.05 1731.16,642.57 1720.26,639.14 1709.36,635.05 1698.46,631.61"/>
<polygon class="rb" fill="#fbe30d" points="1698.46,633.6 1709.36,636.88 1720.26,640.44 1731.16,643.6 1742.06,645.46 1752.96,646 1763.86,646.3 1774.76,647.1 1785.66,646.12 1796.56,644.39 1807.46,642.6 1818.36,640.94 1829.26,639.44 1840.16,638.02 1851.06,635.58 1851.06,643.53 1840.16,644.53 1829.26,644.57 1818.36,644.78 1807.46,645.24 1796.56,645.95 1785.66,646.75 1774.76,647.1 1763.86,646.84 1752.96,646.88 1742.06,646.63 1731.16,645.04 1720.26,642.11 1709.36,638.78 1698.46,635.71"/>
<polyline class="hl" points="1698.46,639.42 1709.36,642 1720.26,645.17 1731.16,647.5 1742.06,648.69 1752.96,648.42 1763.86,647.76 1774.76,647.1 1785.66,644.85 1796.56,642 1807.46,639.02 1818.36,636.38 1829.26,634.26 1840.16,632.01 1851.06,628.56"/>
<polyline class="hl" points="1698.46,630.29 1709.36,633.86 1720.26,638.1 1731.16,641.67 1742.06,644.32 1752.96,644.85 1763.86,645.51 1774.76,647.1 1785.66,647.76 1796.56,647.5 1807.46,647.1 1818.36,647.27 1829.26,648.69 1840.16,650.08 1851.06,649.75"/>
<polyline class="hl" points="1698.46,634.65 1709.36,637.83 1720.26,641.27 1731.16,644.32 1742.06,646.04 1752.96,646.44 1763.86,646.57 1774.76,647.1 1785.66,646.44 1796.56,645.17 1807.46,643.92 1818.36,642.86 1829.26,642 1840.16,641.27 1851.06,639.55"/>
<polyline class="ln" stroke="#26204d" points="1698.46,639.42 1709.36,642 1720.26,645.17 1731.16,647.5 1742.06,648.69 1752.96,648.42 1763.86,647.76 1774.76,647.1 1785.66,644.85 1796.56,642 1807.46,639.02 1818.36,636.38 1829.26,634.26 1840.16,632.01 1851.06,628.56"/>
<polyline class="ln" stroke="#06867e" points="1698.46,630.29 1709.36,633.86 1720.26,638.1 1731.16,641.67 1742.06,644.32 1752.96,644.85 1763.86,645.51 1774.76,647.1 1785.66,647.76 1796.56,647.5 1807.46,647.1 1818.36,647.27 1829.26,648.69 1840.16,650.08 1851.06,649.75"/>
<polyline class="ln" stroke="#fbe30d" points="1698.46,634.65 1709.36,637.83 1720.26,641.27 1731.16,644.32 1742.06,646.04 1752.96,646.44 1763.86,646.57 1774.76,647.1 1785.66,646.44 1796.56,645.17 1807.46,643.92 1818.36,642.86 1829.26,642 1840.16,641.27 1851.06,639.55"/>
<path class="dh" d="M1691.3 647.1H1858.3"/>
<path class="dh" d="M1774.76 691.8V525.1"/>
</g>
<rect class="st" x="1344.9" y="698.1" width="167" height="20.1"/>
<text class="sl" transform="translate(1428.4 712.35) rotate(.02) scale(0.98 1)">Middle SDI</text>
<rect class="pn" x="1344.9" y="718.2" width="167" height="165.9"/>
<path class="gm" d="M1344.9 856.85h167M1344.9 823.75h167M1344.9 790.65h167M1344.9 757.55h167M1344.9 724.45h167M1369.5 718.2v165.9M1413.1 718.2v165.9M1456.7 718.2v165.9M1500.3 718.2v165.9"/>
<path class="gM" d="M1344.9 873.4h167M1344.9 840.3h167M1344.9 807.2h167M1344.9 774.1h167M1344.9 741h167M1347.7 718.2v165.9M1391.3 718.2v165.9M1434.9 718.2v165.9M1478.5 718.2v165.9"/>
<g clip-path="url(#c34)">
<polygon class="rb" fill="#26204d" points="1352.06,846.26 1362.96,846.55 1373.86,847.94 1384.76,847.66 1395.66,846.33 1406.56,844.76 1417.46,843.21 1428.36,840.3 1439.26,836.79 1450.16,833.39 1461.06,828.96 1471.96,827.97 1482.86,827.82 1493.76,827.86 1504.66,825.74 1504.66,838.98 1493.76,838.7 1482.86,836.37 1471.96,834.36 1461.06,833.36 1450.16,835.99 1439.26,837.85 1428.36,840.3 1417.46,843.75 1406.56,845.64 1395.66,847.51 1384.76,849.09 1373.86,849.61 1362.96,848.45 1352.06,848.38"/>
<polygon class="rb" fill="#06867e" points="1352.06,824.01 1362.96,825.84 1373.86,828.61 1384.76,830.85 1395.66,832.7 1406.56,835.09 1417.46,837.57 1428.36,840.3 1439.26,842.87 1450.16,845.21 1461.06,847.89 1471.96,851.47 1482.86,854.08 1493.76,857.07 1504.66,860.16 1504.66,865.46 1493.76,861.4 1482.86,857.5 1471.96,854.02 1461.06,849.65 1450.16,846.25 1439.26,843.29 1428.36,840.3 1417.46,838.11 1406.56,835.97 1395.66,833.87 1384.76,832.28 1373.86,830.28 1362.96,827.75 1352.06,826.13"/>
<polygon class="rb" fill="#fbe30d" points="1352.06,836.53 1362.96,837.47 1373.86,838.8 1384.76,839.94 1395.66,840.39 1406.56,840.14 1417.46,840.1 1428.36,840.3 1439.26,840.09 1450.16,839.78 1461.06,839.95 1471.96,842.2 1482.86,844.02 1493.76,845.68 1504.66,846.92 1504.66,852.22 1493.76,850.01 1482.86,847.44 1471.96,844.76 1461.06,841.71 1450.16,840.82 1439.26,840.51 1428.36,840.3 1417.46,840.5 1406.56,840.8 1395.66,841.27 1384.76,841.01 1373.86,840.05 1362.96,838.89 1352.06,838.12"/>
<polyline class="hl" points="1352.06,847.32 1362.96,847.5 1373.86,848.77 1384.76,848.38 1395.66,846.92 1406.56,845.2 1417.46,843.48 1428.36,840.3 1439.26,837.32 1450.16,834.69 1461.06,831.16 1471.96,831.16 1482.86,832.09 1493.76,833.28 1504.66,832.36"/>
<polyline class="hl" points="1352.06,825.07 1362.96,826.8 1373.86,829.44 1384.76,831.56 1395.66,833.28 1406.56,835.53 1417.46,837.84 1428.36,840.3 1439.26,843.08 1450.16,845.73 1461.06,848.77 1471.96,852.75 1482.86,855.79 1493.76,859.23 1504.66,862.81"/>
<polyline class="hl" points="1352.06,837.32 1362.96,838.18 1373.86,839.43 1384.76,840.47 1395.66,840.83 1406.56,840.47 1417.46,840.3 1428.36,840.3 1439.26,840.3 1450.16,840.3 1461.06,840.83 1471.96,843.48 1482.86,845.73 1493.76,847.85 1504.66,849.57"/>
<polyline class="ln" stroke="#26204d" points="1352.06,847.32 1362.96,847.5 1373.86,848.77 1384.76,848.38 1395.66,846.92 1406.56,845.2 1417.46,843.48 1428.36,840.3 1439.26,837.32 1450.16,834.69 1461.06,831.16 1471.96,831.16 1482.86,832.09 1493.76,833.28 1504.66,832.36"/>
<polyline class="ln" stroke="#06867e" points="1352.06,825.07 1362.96,826.8 1373.86,829.44 1384.76,831.56 1395.66,833.28 1406.56,835.53 1417.46,837.84 1428.36,840.3 1439.26,843.08 1450.16,845.73 1461.06,848.77 1471.96,852.75 1482.86,855.79 1493.76,859.23 1504.66,862.81"/>
<polyline class="ln" stroke="#fbe30d" points="1352.06,837.32 1362.96,838.18 1373.86,839.43 1384.76,840.47 1395.66,840.83 1406.56,840.47 1417.46,840.3 1428.36,840.3 1439.26,840.3 1450.16,840.3 1461.06,840.83 1471.96,843.48 1482.86,845.73 1493.76,847.85 1504.66,849.57"/>
<path class="dh" d="M1344.9 840.3H1511.9"/>
<path class="dh" d="M1428.36 884.8V718.2"/>
</g>
<text class="yl" transform="translate(1339.3 877.3) rotate(.02) scale(0.96 1)">0.75</text>
<text class="yl" transform="translate(1339.3 844.2) rotate(.02) scale(0.96 1)">1.00</text>
<text class="yl" transform="translate(1339.3 811.1) rotate(.02) scale(0.96 1)">1.25</text>
<text class="yl" transform="translate(1339.3 778) rotate(.02) scale(0.96 1)">1.50</text>
<text class="yl" transform="translate(1339.3 744.9) rotate(.02) scale(0.96 1)">1.75</text>
<path class="tk" d="M1341.5 873.4h3.4M1341.5 840.3h3.4M1341.5 807.2h3.4M1341.5 774.1h3.4M1341.5 741h3.4"/>
<text class="xl" transform="translate(1347.7 897.1) rotate(.02) scale(0.955 1)">1930</text>
<text class="xl" transform="translate(1391.3 897.1) rotate(.02) scale(0.955 1)">1950</text>
<text class="xl" transform="translate(1434.9 897.1) rotate(.02) scale(0.955 1)">1970</text>
<text class="xl" transform="translate(1478.5 897.1) rotate(.02) scale(0.955 1)">1990</text>
<path class="tk" d="M1347.7 884.1v3.4M1391.3 884.1v3.4M1434.9 884.1v3.4M1478.5 884.1v3.4"/>
<rect class="st" x="1518.1" y="698.1" width="167" height="20.1"/>
<text class="sl" transform="translate(1601.6 712.35) rotate(.02) scale(0.98 1)">High-middle SDI</text>
<rect class="pn" x="1518.1" y="718.2" width="167" height="165.9"/>
<path class="gm" d="M1518.1 856.85h167M1518.1 823.75h167M1518.1 790.65h167M1518.1 757.55h167M1518.1 724.45h167M1542.7 718.2v165.9M1586.3 718.2v165.9M1629.9 718.2v165.9M1673.5 718.2v165.9"/>
<path class="gM" d="M1518.1 873.4h167M1518.1 840.3h167M1518.1 807.2h167M1518.1 774.1h167M1518.1 741h167M1520.9 718.2v165.9M1564.5 718.2v165.9M1608.1 718.2v165.9M1651.7 718.2v165.9"/>
<g clip-path="url(#c35)">
<polygon class="rb" fill="#26204d" points="1525.26,796.13 1536.16,801.38 1547.06,813.44 1557.96,822.86 1568.86,823.81 1579.76,827.1 1590.66,833.47 1601.56,840.3 1612.46,838.69 1623.36,836.36 1634.26,834.76 1645.16,836.88 1656.06,839.21 1666.96,841.19 1677.86,842.1 1677.86,860.64 1666.96,856.36 1656.06,851.18 1645.16,845.84 1634.26,840.92 1623.36,840 1612.46,840.16 1601.56,840.3 1590.66,834.15 1579.76,828.21 1568.86,825.28 1557.96,824.64 1547.06,815.53 1536.16,803.75 1525.26,798.78"/>
<polygon class="rb" fill="#06867e" points="1525.26,777.54 1536.16,783.5 1547.06,797.68 1557.96,811.87 1568.86,813.75 1579.76,820.42 1590.66,829.95 1601.56,840.3 1612.46,843.28 1623.36,845.14 1634.26,848.29 1645.16,853.43 1656.06,856.75 1666.96,859.11 1677.86,861.75 1677.86,874.99 1666.96,869.95 1656.06,865.3 1645.16,859.82 1634.26,852.7 1623.36,847.74 1612.46,844.34 1601.56,840.3 1590.66,830.63 1579.76,821.52 1568.86,815.21 1557.96,813.66 1547.06,799.77 1536.16,785.88 1525.26,780.19"/>
<polygon class="rb" fill="#fbe30d" points="1525.26,788.93 1536.16,794.2 1547.06,806.63 1557.96,818.14 1568.86,819.72 1579.76,824.1 1590.66,831.82 1601.56,840.3 1612.46,841.64 1623.36,841.51 1634.26,842.58 1645.16,847.01 1656.06,850.57 1666.96,853.18 1677.86,855.72 1677.86,866.32 1666.96,861.85 1656.06,857.41 1645.16,852.13 1634.26,846.1 1623.36,843.59 1612.46,842.48 1601.56,840.3 1590.66,832.36 1579.76,824.99 1568.86,820.89 1557.96,819.57 1547.06,808.3 1536.16,796.1 1525.26,791.05"/>
<polyline class="hl" points="1525.26,797.46 1536.16,802.57 1547.06,814.48 1557.96,823.75 1568.86,824.54 1579.76,827.66 1590.66,833.81 1601.56,840.3 1612.46,839.43 1623.36,838.18 1634.26,837.84 1645.16,841.36 1656.06,845.2 1666.96,848.77 1677.86,851.37"/>
<polyline class="hl" points="1525.26,778.87 1536.16,784.69 1547.06,798.73 1557.96,812.76 1568.86,814.48 1579.76,820.97 1590.66,830.29 1601.56,840.3 1612.46,843.81 1623.36,846.44 1634.26,850.49 1645.16,856.62 1656.06,861.02 1666.96,864.53 1677.86,868.37"/>
<polyline class="hl" points="1525.26,789.99 1536.16,795.15 1547.06,807.46 1557.96,818.85 1568.86,820.31 1579.76,824.54 1590.66,832.09 1601.56,840.3 1612.46,842.06 1623.36,842.55 1634.26,844.34 1645.16,849.57 1656.06,853.99 1666.96,857.51 1677.86,861.02"/>
<polyline class="ln" stroke="#26204d" points="1525.26,797.46 1536.16,802.57 1547.06,814.48 1557.96,823.75 1568.86,824.54 1579.76,827.66 1590.66,833.81 1601.56,840.3 1612.46,839.43 1623.36,838.18 1634.26,837.84 1645.16,841.36 1656.06,845.2 1666.96,848.77 1677.86,851.37"/>
<polyline class="ln" stroke="#06867e" points="1525.26,778.87 1536.16,784.69 1547.06,798.73 1557.96,812.76 1568.86,814.48 1579.76,820.97 1590.66,830.29 1601.56,840.3 1612.46,843.81 1623.36,846.44 1634.26,850.49 1645.16,856.62 1656.06,861.02 1666.96,864.53 1677.86,868.37"/>
<polyline class="ln" stroke="#fbe30d" points="1525.26,789.99 1536.16,795.15 1547.06,807.46 1557.96,818.85 1568.86,820.31 1579.76,824.54 1590.66,832.09 1601.56,840.3 1612.46,842.06 1623.36,842.55 1634.26,844.34 1645.16,849.57 1656.06,853.99 1666.96,857.51 1677.86,861.02"/>
<path class="dh" d="M1518.1 840.3H1685.1"/>
<path class="dh" d="M1601.56 884.8V718.2"/>
</g>
<text class="xl" transform="translate(1520.9 897.1) rotate(.02) scale(0.955 1)">1930</text>
<text class="xl" transform="translate(1564.5 897.1) rotate(.02) scale(0.955 1)">1950</text>
<text class="xl" transform="translate(1608.1 897.1) rotate(.02) scale(0.955 1)">1970</text>
<text class="xl" transform="translate(1651.7 897.1) rotate(.02) scale(0.955 1)">1990</text>
<path class="tk" d="M1520.9 884.1v3.4M1564.5 884.1v3.4M1608.1 884.1v3.4M1651.7 884.1v3.4"/>
<rect class="st" x="1691.3" y="698.1" width="167" height="20.1"/>
<text class="sl" transform="translate(1774.8 712.35) rotate(.02) scale(0.98 1)">High SDI</text>
<rect class="pn" x="1691.3" y="718.2" width="167" height="165.9"/>
<path class="gm" d="M1691.3 856.85h167M1691.3 823.75h167M1691.3 790.65h167M1691.3 757.55h167M1691.3 724.45h167M1715.9 718.2v165.9M1759.5 718.2v165.9M1803.1 718.2v165.9M1846.7 718.2v165.9"/>
<path class="gM" d="M1691.3 873.4h167M1691.3 840.3h167M1691.3 807.2h167M1691.3 774.1h167M1691.3 741h167M1694.1 718.2v165.9M1737.7 718.2v165.9M1781.3 718.2v165.9M1824.9 718.2v165.9"/>
<g clip-path="url(#c36)">
<polygon class="rb" fill="#26204d" points="1698.46,731.73 1709.36,755.57 1720.26,779.7 1731.16,801.27 1742.06,812.68 1752.96,823.02 1763.86,832.8 1774.76,840.3 1785.66,840.09 1796.56,839.94 1807.46,839.15 1818.36,840.72 1829.26,843.58 1840.16,846.41 1851.06,847.36 1851.06,865.89 1840.16,861.58 1829.26,855.55 1818.36,849.68 1807.46,845.31 1796.56,843.57 1785.66,841.57 1774.76,840.3 1763.86,834.83 1752.96,826.33 1742.06,817.07 1731.16,806.64 1720.26,785.98 1709.36,762.7 1698.46,739.68"/>
<polygon class="rb" fill="#06867e" points="1698.46,724.98 1709.36,751.2 1720.26,777.98 1731.16,801.27 1742.06,813.21 1752.96,823.42 1763.86,832.8 1774.76,840.3 1785.66,844.02 1796.56,846.19 1807.46,847.45 1818.36,850.69 1829.26,854.06 1840.16,857.24 1851.06,860.95 1851.06,868.9 1840.16,863.74 1829.26,859.19 1818.36,854.53 1807.46,850.09 1796.56,847.75 1785.66,844.65 1774.76,840.3 1763.86,834.83 1752.96,826.73 1742.06,817.6 1731.16,806.64 1720.26,784.26 1709.36,758.34 1698.46,732.92"/>
<polygon class="rb" fill="#fbe30d" points="1698.46,732 1709.36,755.97 1720.26,780.26 1731.16,802.5 1742.06,813.95 1752.96,823.97 1763.86,833.48 1774.76,840.3 1785.66,842.23 1796.56,843.03 1807.46,843.35 1818.36,846.46 1829.26,850.18 1840.16,853.37 1851.06,856.19 1851.06,864.13 1840.16,859.88 1829.26,855.31 1818.36,850.3 1807.46,845.99 1796.56,844.59 1785.66,842.87 1774.76,840.3 1763.86,834.83 1752.96,826.18 1742.06,816.87 1731.16,806.08 1720.26,784.44 1709.36,760.72 1698.46,737.29"/>
<polyline class="hl" points="1698.46,735.7 1709.36,759.14 1720.26,782.84 1731.16,803.96 1742.06,814.88 1752.96,824.68 1763.86,833.81 1774.76,840.3 1785.66,840.83 1796.56,841.76 1807.46,842.23 1818.36,845.2 1829.26,849.57 1840.16,853.99 1851.06,856.62"/>
<polyline class="hl" points="1698.46,728.95 1709.36,754.77 1720.26,781.12 1731.16,803.96 1742.06,815.41 1752.96,825.07 1763.86,833.81 1774.76,840.3 1785.66,844.34 1796.56,846.97 1807.46,848.77 1818.36,852.61 1829.26,856.62 1840.16,860.49 1851.06,864.93"/>
<polyline class="hl" points="1698.46,734.64 1709.36,758.34 1720.26,782.35 1731.16,804.29 1742.06,815.41 1752.96,825.07 1763.86,834.16 1774.76,840.3 1785.66,842.55 1796.56,843.81 1807.46,844.67 1818.36,848.38 1829.26,852.75 1840.16,856.62 1851.06,860.16"/>
<polyline class="ln" stroke="#26204d" points="1698.46,735.7 1709.36,759.14 1720.26,782.84 1731.16,803.96 1742.06,814.88 1752.96,824.68 1763.86,833.81 1774.76,840.3 1785.66,840.83 1796.56,841.76 1807.46,842.23 1818.36,845.2 1829.26,849.57 1840.16,853.99 1851.06,856.62"/>
<polyline class="ln" stroke="#06867e" points="1698.46,728.95 1709.36,754.77 1720.26,781.12 1731.16,803.96 1742.06,815.41 1752.96,825.07 1763.86,833.81 1774.76,840.3 1785.66,844.34 1796.56,846.97 1807.46,848.77 1818.36,852.61 1829.26,856.62 1840.16,860.49 1851.06,864.93"/>
<polyline class="ln" stroke="#fbe30d" points="1698.46,734.64 1709.36,758.34 1720.26,782.35 1731.16,804.29 1742.06,815.41 1752.96,825.07 1763.86,834.16 1774.76,840.3 1785.66,842.55 1796.56,843.81 1807.46,844.67 1818.36,848.38 1829.26,852.75 1840.16,856.62 1851.06,860.16"/>
<path class="dh" d="M1691.3 840.3H1858.3"/>
<path class="dh" d="M1774.76 884.8V718.2"/>
</g>
<text class="xl" transform="translate(1694.1 897.1) rotate(.02) scale(0.955 1)">1930</text>
<text class="xl" transform="translate(1737.7 897.1) rotate(.02) scale(0.955 1)">1950</text>
<text class="xl" transform="translate(1781.3 897.1) rotate(.02) scale(0.955 1)">1970</text>
<text class="xl" transform="translate(1824.9 897.1) rotate(.02) scale(0.955 1)">1990</text>
<path class="tk" d="M1694.1 884.1v3.4M1737.7 884.1v3.4M1781.3 884.1v3.4M1824.9 884.1v3.4"/>
<text class="at" transform="translate(1601.6 912.3) rotate(.02) scale(0.97 1)">Birth cohort</text>
<text class="at" transform="translate(1314.3 705.2) rotate(-90.02) scale(0.948 1)">Risk ratio</text>
<text class="lt" transform="translate(1877.7 675.9) rotate(.02) scale(0.97 1)">group</text>
<rect x="1877.7" y="684.7" width="19.4" height="18.5" fill="#dedade"/>
<path class="lk" stroke="#26204d" d="M1879.3 694h16.4"/>
<text class="ll" transform="translate(1903.6 698.2) rotate(.02) scale(1.03 1)">Male</text>
<rect x="1877.7" y="704.6" width="19.4" height="18.5" fill="#dde3e2"/>
<path class="lk" stroke="#06867e" d="M1879.3 713.9h16.4"/>
<text class="ll" transform="translate(1903.6 718.1) rotate(.02) scale(1.03 1)">Female</text>
<rect x="1877.7" y="724.5" width="19.4" height="18.5" fill="#eeebdf"/>
<path class="lk" stroke="#fbe30d" d="M1879.3 733.8h16.4"/>
<text class="ll" transform="translate(1903.6 738) rotate(.02) scale(1.03 1)">Both</text>
<text class="pl" transform="translate(1601 962.8) rotate(.02) scale(1.02 1)">F</text>
</g>
</svg>
</body>
</html>
